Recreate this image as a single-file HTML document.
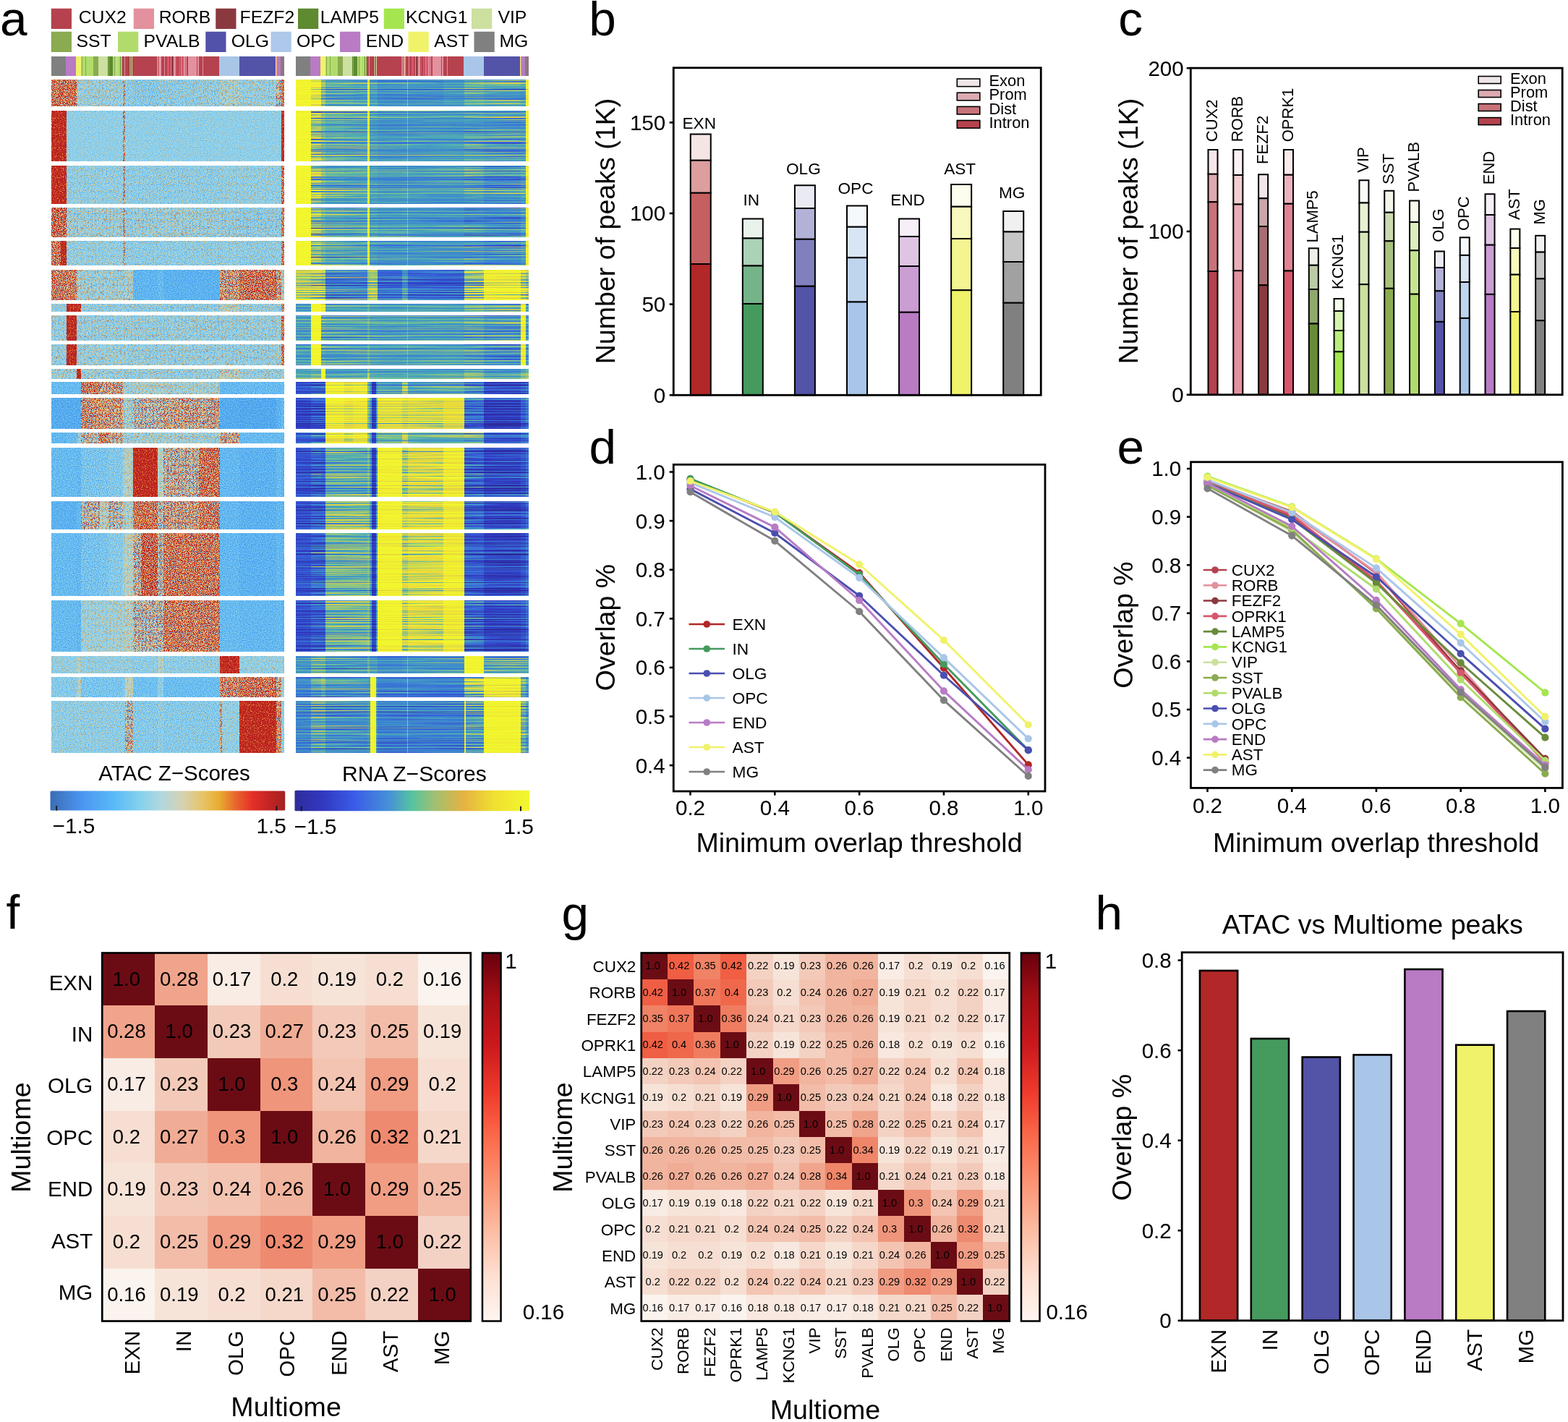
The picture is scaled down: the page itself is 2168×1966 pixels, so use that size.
<!DOCTYPE html>
<html lang="en"><head><meta charset="utf-8"><title>Figure</title>
<style>
html,body{margin:0;padding:0;background:#fff;}
body{width:2168px;height:1966px;overflow:hidden;}
svg{display:block;font-family:"Liberation Sans",sans-serif;fill:#000;}
</style></head><body>
<svg width="2168" height="1966" viewBox="0 0 2168 1966">
<rect width="2168" height="1966" fill="#ffffff"/>
<rect x="70.75" y="11.75" width="28.25" height="28.25" fill="#b5424e"/>
<text x="141.75" y="32" font-size="24.8" text-anchor="middle">CUX2</text>
<rect x="184.75" y="11.75" width="28.25" height="28.25" fill="#e3919e"/>
<text x="255.5" y="32" font-size="24.8" text-anchor="middle">RORB</text>
<rect x="298.25" y="11.75" width="28.25" height="28.25" fill="#8a3a3f"/>
<text x="369.4" y="32" font-size="24.8" text-anchor="middle">FEZF2</text>
<rect x="412" y="11.75" width="28.25" height="28.25" fill="#5e8a30"/>
<text x="483.5" y="32" font-size="24.8" text-anchor="middle">LAMP5</text>
<rect x="530.75" y="11.75" width="28.25" height="28.25" fill="#a5e64f"/>
<text x="603.75" y="32" font-size="24.8" text-anchor="middle">KCNG1</text>
<rect x="652" y="11.75" width="28.25" height="28.25" fill="#cce0a0"/>
<text x="708.4" y="32" font-size="24.8" text-anchor="middle">VIP</text>
<rect x="70.75" y="43.75" width="28.25" height="28.25" fill="#8aab4f"/>
<text x="129.5" y="64.5" font-size="24.8" text-anchor="middle">SST</text>
<rect x="163" y="43.75" width="28.25" height="28.25" fill="#b1dc6c"/>
<text x="237.6" y="64.5" font-size="24.8" text-anchor="middle">PVALB</text>
<rect x="284.25" y="43.75" width="28.25" height="28.25" fill="#5252aa"/>
<text x="345.9" y="64.5" font-size="24.8" text-anchor="middle">OLG</text>
<rect x="374.5" y="43.75" width="28.25" height="28.25" fill="#adc8ea"/>
<text x="436.9" y="64.5" font-size="24.8" text-anchor="middle">OPC</text>
<rect x="470" y="43.75" width="28.25" height="28.25" fill="#b87bc4"/>
<text x="532" y="64.5" font-size="24.8" text-anchor="middle">END</text>
<rect x="564.5" y="43.75" width="28.25" height="28.25" fill="#f0f26a"/>
<text x="624.25" y="64.5" font-size="24.8" text-anchor="middle">AST</text>
<rect x="655.5" y="43.75" width="28.25" height="28.25" fill="#808080"/>
<text x="710.4" y="64.5" font-size="24.8" text-anchor="middle">MG</text>
<g shape-rendering="crispEdges">
<rect x="70.75" y="78.2" width="20.3" height="26.4" fill="#808080"/>
<rect x="90.75" y="78.2" width="14.5" height="26.4" fill="#b87bc4"/>
<rect x="104.95" y="78.2" width="6.9" height="26.4" fill="#f0f26a"/>
<rect x="111.55" y="78.2" width="1.7" height="26.4" fill="#b1dc6c"/>
<rect x="112.95" y="78.2" width="1.1" height="26.4" fill="#8aab4f"/>
<rect x="113.75" y="78.2" width="2.3" height="26.4" fill="#b1dc6c"/>
<rect x="115.75" y="78.2" width="0.9" height="26.4" fill="#8aab4f"/>
<rect x="116.35" y="78.2" width="2.1" height="26.4" fill="#b1dc6c"/>
<rect x="118.15" y="78.2" width="1.5" height="26.4" fill="#8aab4f"/>
<rect x="119.35" y="78.2" width="9.5" height="26.4" fill="#b1dc6c"/>
<rect x="128.55" y="78.2" width="7.3" height="26.4" fill="#8aab4f"/>
<rect x="135.55" y="78.2" width="13.6" height="26.4" fill="#cce0a0"/>
<rect x="148.85" y="78.2" width="1.2" height="26.4" fill="#5b8a2e"/>
<rect x="149.75" y="78.2" width="0.9" height="26.4" fill="#b1dc6c"/>
<rect x="150.35" y="78.2" width="1.4" height="26.4" fill="#8aab4f"/>
<rect x="151.45" y="78.2" width="5.2" height="26.4" fill="#5b8a2e"/>
<rect x="156.35" y="78.2" width="2.2" height="26.4" fill="#b1dc6c"/>
<rect x="158.25" y="78.2" width="1" height="26.4" fill="#8aab4f"/>
<rect x="158.95" y="78.2" width="2.7" height="26.4" fill="#b1dc6c"/>
<rect x="161.35" y="78.2" width="1" height="26.4" fill="#cce0a0"/>
<rect x="162.05" y="78.2" width="2.75" height="26.4" fill="#b1dc6c"/>
<rect x="164.5" y="78.2" width="1.15" height="26.4" fill="#5b8a2e"/>
<rect x="165.35" y="78.2" width="1.3" height="26.4" fill="#b1dc6c"/>
<rect x="166.35" y="78.2" width="1.1" height="26.4" fill="#5b8a2e"/>
<rect x="167.15" y="78.2" width="1.3" height="26.4" fill="#cce0a0"/>
<rect x="168.15" y="78.2" width="1.3" height="26.4" fill="#8aab4f"/>
<rect x="169.15" y="78.2" width="2.9" height="26.4" fill="#b5424e"/>
<rect x="171.75" y="78.2" width="1.1" height="26.4" fill="#e3919e"/>
<rect x="172.55" y="78.2" width="3.3" height="26.4" fill="#b5424e"/>
<rect x="175.55" y="78.2" width="1.1" height="26.4" fill="#e3919e"/>
<rect x="176.35" y="78.2" width="2.3" height="26.4" fill="#b5424e"/>
<rect x="178.35" y="78.2" width="1.1" height="26.4" fill="#8a3a3f"/>
<rect x="179.15" y="78.2" width="1.3" height="26.4" fill="#e3919e"/>
<rect x="180.15" y="78.2" width="1.1" height="26.4" fill="#8aab4f"/>
<rect x="180.95" y="78.2" width="1.3" height="26.4" fill="#b5424e"/>
<rect x="181.95" y="78.2" width="1.4" height="26.4" fill="#cce0a0"/>
<rect x="183.05" y="78.2" width="33.8" height="26.4" fill="#b5424e"/>
<rect x="216.55" y="78.2" width="1.3" height="26.4" fill="#8aab4f"/>
<rect x="217.55" y="78.2" width="1.5" height="26.4" fill="#e3919e"/>
<rect x="218.75" y="78.2" width="1.7" height="26.4" fill="#b5424e"/>
<rect x="220.15" y="78.2" width="1.5" height="26.4" fill="#d8c878"/>
<rect x="221.35" y="78.2" width="1.6" height="26.4" fill="#e3919e"/>
<rect x="222.65" y="78.2" width="4.4" height="26.4" fill="#b5424e"/>
<rect x="226.75" y="78.2" width="1.3" height="26.4" fill="#e3919e"/>
<rect x="227.75" y="78.2" width="3.9" height="26.4" fill="#b5424e"/>
<rect x="231.35" y="78.2" width="2.5" height="26.4" fill="#d8566c"/>
<rect x="233.55" y="78.2" width="2.5" height="26.4" fill="#b5424e"/>
<rect x="235.75" y="78.2" width="1.5" height="26.4" fill="#e3919e"/>
<rect x="236.95" y="78.2" width="2.5" height="26.4" fill="#8a3a3f"/>
<rect x="239.15" y="78.2" width="1.5" height="26.4" fill="#b5424e"/>
<rect x="240.35" y="78.2" width="2.5" height="26.4" fill="#e3919e"/>
<rect x="242.55" y="78.2" width="1.5" height="26.4" fill="#b5424e"/>
<rect x="243.75" y="78.2" width="1.2" height="26.4" fill="#d8566c"/>
<rect x="244.65" y="78.2" width="2.5" height="26.4" fill="#b5424e"/>
<rect x="246.85" y="78.2" width="1.5" height="26.4" fill="#d8566c"/>
<rect x="248.05" y="78.2" width="1.2" height="26.4" fill="#d8566c"/>
<rect x="248.95" y="78.2" width="1.2" height="26.4" fill="#b5424e"/>
<rect x="249.85" y="78.2" width="1.2" height="26.4" fill="#e3919e"/>
<rect x="250.75" y="78.2" width="1.5" height="26.4" fill="#d8566c"/>
<rect x="251.95" y="78.2" width="1.2" height="26.4" fill="#d8566c"/>
<rect x="252.85" y="78.2" width="1.9" height="26.4" fill="#d8566c"/>
<rect x="254.45" y="78.2" width="1.5" height="26.4" fill="#e3919e"/>
<rect x="255.65" y="78.2" width="1.9" height="26.4" fill="#d8566c"/>
<rect x="257.25" y="78.2" width="1.2" height="26.4" fill="#e3919e"/>
<rect x="258.15" y="78.2" width="2.5" height="26.4" fill="#b5424e"/>
<rect x="260.35" y="78.2" width="1.7" height="26.4" fill="#e3919e"/>
<rect x="261.75" y="78.2" width="10.3" height="26.4" fill="#e3919e"/>
<rect x="271.75" y="78.2" width="1.6" height="26.4" fill="#b5424e"/>
<rect x="273.05" y="78.2" width="2" height="26.4" fill="#e3919e"/>
<rect x="274.75" y="78.2" width="5.3" height="26.4" fill="#b5424e"/>
<rect x="279.75" y="78.2" width="1.1" height="26.4" fill="#e3919e"/>
<rect x="280.55" y="78.2" width="1.5" height="26.4" fill="#b5424e"/>
<rect x="281.75" y="78.2" width="21.9" height="26.4" fill="#b5424e"/>
<rect x="303.35" y="78.2" width="27.7" height="26.4" fill="#a9c6e8"/>
<rect x="330.75" y="78.2" width="50.3" height="26.4" fill="#5353a8"/>
<rect x="380.75" y="78.2" width="1.3" height="26.4" fill="#f0f26a"/>
<rect x="381.75" y="78.2" width="1.8" height="26.4" fill="#e3919e"/>
<rect x="383.25" y="78.2" width="5.5" height="26.4" fill="#b87bc4"/>
<rect x="388.45" y="78.2" width="4.85" height="26.4" fill="#8a7880"/>
<rect x="408.75" y="78.2" width="20.3" height="26.4" fill="#808080"/>
<rect x="428.75" y="78.2" width="14.5" height="26.4" fill="#b87bc4"/>
<rect x="442.95" y="78.2" width="6.9" height="26.4" fill="#f0f26a"/>
<rect x="449.55" y="78.2" width="1.7" height="26.4" fill="#b1dc6c"/>
<rect x="450.95" y="78.2" width="1.1" height="26.4" fill="#8aab4f"/>
<rect x="451.75" y="78.2" width="2.3" height="26.4" fill="#b1dc6c"/>
<rect x="453.75" y="78.2" width="0.9" height="26.4" fill="#8aab4f"/>
<rect x="454.35" y="78.2" width="2.1" height="26.4" fill="#b1dc6c"/>
<rect x="456.15" y="78.2" width="1.5" height="26.4" fill="#8aab4f"/>
<rect x="457.35" y="78.2" width="9.5" height="26.4" fill="#b1dc6c"/>
<rect x="466.55" y="78.2" width="7.3" height="26.4" fill="#8aab4f"/>
<rect x="473.55" y="78.2" width="13.6" height="26.4" fill="#cce0a0"/>
<rect x="486.85" y="78.2" width="1.2" height="26.4" fill="#5b8a2e"/>
<rect x="487.75" y="78.2" width="0.9" height="26.4" fill="#b1dc6c"/>
<rect x="488.35" y="78.2" width="1.4" height="26.4" fill="#8aab4f"/>
<rect x="489.45" y="78.2" width="5.2" height="26.4" fill="#5b8a2e"/>
<rect x="494.35" y="78.2" width="2.2" height="26.4" fill="#b1dc6c"/>
<rect x="496.25" y="78.2" width="1" height="26.4" fill="#8aab4f"/>
<rect x="496.95" y="78.2" width="2.7" height="26.4" fill="#b1dc6c"/>
<rect x="499.35" y="78.2" width="1" height="26.4" fill="#cce0a0"/>
<rect x="500.05" y="78.2" width="2.75" height="26.4" fill="#b1dc6c"/>
<rect x="502.5" y="78.2" width="1.15" height="26.4" fill="#5b8a2e"/>
<rect x="503.35" y="78.2" width="1.3" height="26.4" fill="#b1dc6c"/>
<rect x="504.35" y="78.2" width="1.1" height="26.4" fill="#5b8a2e"/>
<rect x="505.15" y="78.2" width="1.3" height="26.4" fill="#cce0a0"/>
<rect x="506.15" y="78.2" width="1.3" height="26.4" fill="#8aab4f"/>
<rect x="507.15" y="78.2" width="2.9" height="26.4" fill="#b5424e"/>
<rect x="509.75" y="78.2" width="1.1" height="26.4" fill="#e3919e"/>
<rect x="510.55" y="78.2" width="3.3" height="26.4" fill="#b5424e"/>
<rect x="513.55" y="78.2" width="1.1" height="26.4" fill="#e3919e"/>
<rect x="514.35" y="78.2" width="2.3" height="26.4" fill="#b5424e"/>
<rect x="516.35" y="78.2" width="1.1" height="26.4" fill="#8a3a3f"/>
<rect x="517.15" y="78.2" width="1.3" height="26.4" fill="#e3919e"/>
<rect x="518.15" y="78.2" width="1.1" height="26.4" fill="#8aab4f"/>
<rect x="518.95" y="78.2" width="1.3" height="26.4" fill="#b5424e"/>
<rect x="519.95" y="78.2" width="1.4" height="26.4" fill="#cce0a0"/>
<rect x="521.05" y="78.2" width="33.8" height="26.4" fill="#b5424e"/>
<rect x="554.55" y="78.2" width="1.3" height="26.4" fill="#8aab4f"/>
<rect x="555.55" y="78.2" width="1.5" height="26.4" fill="#e3919e"/>
<rect x="556.75" y="78.2" width="1.7" height="26.4" fill="#b5424e"/>
<rect x="558.15" y="78.2" width="1.5" height="26.4" fill="#d8c878"/>
<rect x="559.35" y="78.2" width="1.6" height="26.4" fill="#e3919e"/>
<rect x="560.65" y="78.2" width="4.4" height="26.4" fill="#b5424e"/>
<rect x="564.75" y="78.2" width="1.3" height="26.4" fill="#e3919e"/>
<rect x="565.75" y="78.2" width="3.9" height="26.4" fill="#b5424e"/>
<rect x="569.35" y="78.2" width="2.5" height="26.4" fill="#d8566c"/>
<rect x="571.55" y="78.2" width="2.5" height="26.4" fill="#b5424e"/>
<rect x="573.75" y="78.2" width="1.5" height="26.4" fill="#e3919e"/>
<rect x="574.95" y="78.2" width="2.5" height="26.4" fill="#8a3a3f"/>
<rect x="577.15" y="78.2" width="1.5" height="26.4" fill="#b5424e"/>
<rect x="578.35" y="78.2" width="2.5" height="26.4" fill="#e3919e"/>
<rect x="580.55" y="78.2" width="1.5" height="26.4" fill="#b5424e"/>
<rect x="581.75" y="78.2" width="1.2" height="26.4" fill="#d8566c"/>
<rect x="582.65" y="78.2" width="2.5" height="26.4" fill="#b5424e"/>
<rect x="584.85" y="78.2" width="1.5" height="26.4" fill="#d8566c"/>
<rect x="586.05" y="78.2" width="1.2" height="26.4" fill="#d8566c"/>
<rect x="586.95" y="78.2" width="1.2" height="26.4" fill="#b5424e"/>
<rect x="587.85" y="78.2" width="1.2" height="26.4" fill="#e3919e"/>
<rect x="588.75" y="78.2" width="1.5" height="26.4" fill="#d8566c"/>
<rect x="589.95" y="78.2" width="1.2" height="26.4" fill="#d8566c"/>
<rect x="590.85" y="78.2" width="1.9" height="26.4" fill="#d8566c"/>
<rect x="592.45" y="78.2" width="1.5" height="26.4" fill="#e3919e"/>
<rect x="593.65" y="78.2" width="1.9" height="26.4" fill="#d8566c"/>
<rect x="595.25" y="78.2" width="1.2" height="26.4" fill="#e3919e"/>
<rect x="596.15" y="78.2" width="2.5" height="26.4" fill="#b5424e"/>
<rect x="598.35" y="78.2" width="1.7" height="26.4" fill="#e3919e"/>
<rect x="599.75" y="78.2" width="10.3" height="26.4" fill="#e3919e"/>
<rect x="609.75" y="78.2" width="1.6" height="26.4" fill="#b5424e"/>
<rect x="611.05" y="78.2" width="2" height="26.4" fill="#e3919e"/>
<rect x="612.75" y="78.2" width="5.3" height="26.4" fill="#b5424e"/>
<rect x="617.75" y="78.2" width="1.1" height="26.4" fill="#e3919e"/>
<rect x="618.55" y="78.2" width="1.5" height="26.4" fill="#b5424e"/>
<rect x="619.75" y="78.2" width="21.9" height="26.4" fill="#b5424e"/>
<rect x="641.35" y="78.2" width="27.7" height="26.4" fill="#a9c6e8"/>
<rect x="668.75" y="78.2" width="50.3" height="26.4" fill="#5353a8"/>
<rect x="718.75" y="78.2" width="1.3" height="26.4" fill="#f0f26a"/>
<rect x="719.75" y="78.2" width="1.8" height="26.4" fill="#e3919e"/>
<rect x="721.25" y="78.2" width="5.5" height="26.4" fill="#b87bc4"/>
<rect x="726.45" y="78.2" width="4.85" height="26.4" fill="#8a7880"/>
</g>
<filter id="fa" filterUnits="userSpaceOnUse" x="60" y="100" width="345" height="950" color-interpolation-filters="sRGB"><feColorMatrix in="SourceGraphic" type="matrix" values="1 0 0 0 0 1 0 0 0 0 1 0 0 0 0 0 0 0 1 0" result="L"/><feColorMatrix in="SourceGraphic" type="matrix" values="0 1 0 0 0 0 1 0 0 0 0 1 0 0 0 0 0 0 1 0" result="M"/><feTurbulence type="fractalNoise" baseFrequency="0.8 0.9" numOctaves="1" seed="4" result="n"/><feColorMatrix in="n" type="matrix" values="1 0 0 0 0 1 0 0 0 0 1 0 0 0 0 0 0 0 0 1" result="ng"/><feComposite in="M" in2="ng" operator="arithmetic" k1="1" k2="0" k3="0" k4="0" result="N"/><feComposite in="L" in2="N" operator="arithmetic" k1="0" k2="1" k3="0.75" k4="0" result="s1"/><feComposite in="s1" in2="M" operator="arithmetic" k1="0" k2="1" k3="-0.38" k4="0.38" result="s2"/><feComponentTransfer in="s2" result="c"><feFuncR type="table" tableValues="0.247 0.247 0.247 0.247 0.247 0.247 0.247 0.247 0.247 0.247 0.247 0.248 0.249 0.25 0.251 0.252 0.253 0.254 0.255 0.256 0.257 0.258 0.259 0.26 0.261 0.262 0.263 0.264 0.265 0.266 0.267 0.278 0.29 0.302 0.314 0.376 0.439 0.485 0.531 0.573 0.612 0.754 0.853 0.889 0.91 0.91 0.894 0.855 0.816 0.776 0.737 0.725 0.714 0.702 0.69 0.689 0.688 0.687 0.685 0.684 0.683 0.682 0.681 0.679 0.678 0.677 0.676 0.675 0.673 0.672 0.671 0.67 0.668 0.667 0.666 0.665 0.664 0.662 0.661 0.66 0.659"/><feFuncG type="table" tableValues="0.471 0.471 0.471 0.471 0.471 0.471 0.471 0.471 0.471 0.471 0.471 0.474 0.477 0.48 0.483 0.486 0.489 0.493 0.496 0.499 0.502 0.505 0.508 0.511 0.515 0.518 0.521 0.524 0.527 0.53 0.533 0.569 0.604 0.639 0.675 0.718 0.761 0.785 0.81 0.825 0.835 0.833 0.813 0.765 0.693 0.584 0.461 0.32 0.22 0.18 0.141 0.137 0.133 0.129 0.125 0.125 0.125 0.125 0.125 0.125 0.125 0.125 0.125 0.125 0.125 0.125 0.125 0.125 0.125 0.125 0.125 0.125 0.125 0.125 0.125 0.125 0.125 0.125 0.125 0.125 0.125"/><feFuncB type="table" tableValues="0.784 0.784 0.784 0.784 0.784 0.784 0.784 0.784 0.784 0.784 0.784 0.788 0.792 0.796 0.8 0.804 0.808 0.812 0.816 0.82 0.824 0.827 0.831 0.835 0.839 0.843 0.847 0.851 0.855 0.859 0.863 0.894 0.925 0.937 0.949 0.945 0.941 0.935 0.928 0.92 0.91 0.782 0.634 0.453 0.322 0.263 0.213 0.178 0.152 0.139 0.125 0.125 0.125 0.125 0.125 0.125 0.125 0.125 0.125 0.125 0.125 0.125 0.125 0.125 0.125 0.125 0.125 0.125 0.125 0.125 0.125 0.125 0.125 0.125 0.125 0.125 0.125 0.125 0.125 0.125 0.125"/></feComponentTransfer><feGaussianBlur in="c" stdDeviation="0.75 0.6" result="bl"/><feComposite in="bl" in2="SourceGraphic" operator="in"/></filter>
<filter id="fr" filterUnits="userSpaceOnUse" x="400" y="100" width="345" height="950" color-interpolation-filters="sRGB"><feColorMatrix in="SourceGraphic" type="matrix" values="1 0 0 0 0 1 0 0 0 0 1 0 0 0 0 0 0 0 1 0" result="L"/><feColorMatrix in="SourceGraphic" type="matrix" values="0 1 0 0 0 0 1 0 0 0 0 1 0 0 0 0 0 0 1 0" result="M"/><feTurbulence type="fractalNoise" baseFrequency="0.0004 0.9" numOctaves="1" seed="9" result="n"/><feColorMatrix in="n" type="matrix" values="1 0 0 0 0 1 0 0 0 0 1 0 0 0 0 0 0 0 0 1" result="na"/><feTurbulence type="fractalNoise" baseFrequency="0.012 0.9" numOctaves="1" seed="21" result="m"/><feColorMatrix in="m" type="matrix" values="1 0 0 0 0 1 0 0 0 0 1 0 0 0 0 0 0 0 0 1" result="nb"/><feComposite in="na" in2="nb" operator="arithmetic" k1="0" k2="0.8" k3="0.4" k4="-0.1" result="ng"/><feComposite in="M" in2="ng" operator="arithmetic" k1="1" k2="0" k3="0" k4="0" result="N"/><feComposite in="L" in2="N" operator="arithmetic" k1="0" k2="1" k3="0.75" k4="0" result="s1"/><feComposite in="s1" in2="M" operator="arithmetic" k1="0" k2="1" k3="-0.38" k4="0.38" result="s2"/><feComponentTransfer in="s2" result="c"><feFuncR type="table" tableValues="0.165 0.165 0.165 0.165 0.165 0.165 0.165 0.165 0.165 0.165 0.165 0.165 0.165 0.166 0.166 0.167 0.167 0.167 0.168 0.168 0.169 0.169 0.169 0.17 0.17 0.171 0.171 0.171 0.172 0.172 0.173 0.179 0.186 0.195 0.206 0.217 0.227 0.237 0.253 0.276 0.325 0.439 0.596 0.71 0.824 0.875 0.925 0.933 0.941 0.945 0.949 0.949 0.949 0.949 0.949 0.949 0.949 0.949 0.949 0.949 0.949 0.949 0.949 0.949 0.949 0.949 0.949 0.949 0.949 0.949 0.949 0.949 0.949 0.949 0.949 0.949 0.949 0.949 0.949 0.949 0.949"/><feFuncG type="table" tableValues="0.165 0.165 0.165 0.165 0.165 0.165 0.165 0.165 0.165 0.165 0.165 0.165 0.165 0.166 0.166 0.167 0.167 0.167 0.168 0.168 0.169 0.169 0.169 0.17 0.17 0.171 0.171 0.171 0.172 0.172 0.173 0.192 0.212 0.26 0.327 0.394 0.458 0.521 0.567 0.615 0.691 0.745 0.784 0.8 0.816 0.831 0.847 0.886 0.925 0.945 0.965 0.965 0.965 0.965 0.965 0.965 0.965 0.965 0.965 0.965 0.965 0.965 0.965 0.965 0.965 0.965 0.965 0.965 0.965 0.965 0.965 0.965 0.965 0.965 0.965 0.965 0.965 0.965 0.965 0.965 0.965"/><feFuncB type="table" tableValues="0.596 0.596 0.596 0.596 0.596 0.596 0.596 0.596 0.596 0.596 0.596 0.597 0.598 0.6 0.601 0.602 0.603 0.604 0.605 0.607 0.608 0.609 0.61 0.611 0.613 0.614 0.615 0.616 0.617 0.618 0.62 0.675 0.731 0.776 0.816 0.855 0.844 0.82 0.792 0.756 0.692 0.596 0.478 0.396 0.314 0.271 0.227 0.212 0.196 0.188 0.18 0.18 0.18 0.18 0.18 0.18 0.18 0.18 0.18 0.18 0.18 0.18 0.18 0.18 0.18 0.18 0.18 0.18 0.18 0.18 0.18 0.18 0.18 0.18 0.18 0.18 0.18 0.18 0.18 0.18 0.18"/></feComponentTransfer><feGaussianBlur in="c" stdDeviation="0.5 0.3" result="bl"/><feComposite in="bl" in2="SourceGraphic" operator="in"/></filter>
<g filter="url(#fa)" shape-rendering="crispEdges">
<rect x="67.75" y="107" width="24.05" height="43.05" fill="#34d900"/>
<rect x="91.5" y="107" width="14.3" height="43.05" fill="#34d900"/>
<rect x="105.5" y="107" width="6.8" height="43.05" fill="#1d7300"/>
<rect x="112" y="107" width="25.8" height="43.05" fill="#1c7300"/>
<rect x="137.5" y="107" width="12.8" height="43.05" fill="#1c7300"/>
<rect x="150" y="107" width="20.3" height="43.05" fill="#1c7300"/>
<rect x="170" y="107" width="3.05" height="43.05" fill="#24d900"/>
<rect x="172.75" y="107" width="11.3" height="43.05" fill="#1a7300"/>
<rect x="183.75" y="107" width="34.05" height="43.05" fill="#187300"/>
<rect x="217.5" y="107" width="8.8" height="43.05" fill="#1a7300"/>
<rect x="226" y="107" width="49.3" height="43.05" fill="#1a7300"/>
<rect x="275" y="107" width="29.3" height="43.05" fill="#1b7300"/>
<rect x="304" y="107" width="27.55" height="43.05" fill="#1f7300"/>
<rect x="331.25" y="107" width="50.8" height="43.05" fill="#1c7300"/>
<rect x="381.75" y="107" width="7.3" height="43.05" fill="#24d900"/>
<rect x="388.75" y="107" width="7.55" height="43.05" fill="#34d900"/>
<rect x="67.75" y="149.75" width="24.05" height="76.3" fill="#406b00"/>
<rect x="91.5" y="149.75" width="14.3" height="76.3" fill="#1a4500"/>
<rect x="105.5" y="149.75" width="6.8" height="76.3" fill="#1a4500"/>
<rect x="112" y="149.75" width="25.8" height="76.3" fill="#1a4500"/>
<rect x="137.5" y="149.75" width="12.8" height="76.3" fill="#1a4500"/>
<rect x="150" y="149.75" width="20.3" height="76.3" fill="#1a4500"/>
<rect x="170" y="149.75" width="3.05" height="76.3" fill="#2bd900"/>
<rect x="172.75" y="149.75" width="11.3" height="76.3" fill="#1a4500"/>
<rect x="183.75" y="149.75" width="34.05" height="76.3" fill="#1a4500"/>
<rect x="217.5" y="149.75" width="8.8" height="76.3" fill="#1a4500"/>
<rect x="226" y="149.75" width="49.3" height="76.3" fill="#1a4500"/>
<rect x="275" y="149.75" width="29.3" height="76.3" fill="#1a4500"/>
<rect x="304" y="149.75" width="27.55" height="76.3" fill="#1a4500"/>
<rect x="331.25" y="149.75" width="50.8" height="76.3" fill="#1a4500"/>
<rect x="381.75" y="149.75" width="7.3" height="76.3" fill="#1a4500"/>
<rect x="388.75" y="149.75" width="7.55" height="76.3" fill="#406b00"/>
<rect x="67.75" y="225.75" width="24.05" height="58.92" fill="#406b00"/>
<rect x="91.5" y="225.75" width="14.3" height="58.92" fill="#1b6600"/>
<rect x="105.5" y="225.75" width="6.8" height="58.92" fill="#1b6600"/>
<rect x="112" y="225.75" width="25.8" height="58.92" fill="#1b6600"/>
<rect x="137.5" y="225.75" width="12.8" height="58.92" fill="#1b6600"/>
<rect x="150" y="225.75" width="20.3" height="58.92" fill="#1b6600"/>
<rect x="170" y="225.75" width="3.05" height="58.92" fill="#29d900"/>
<rect x="172.75" y="225.75" width="11.3" height="58.92" fill="#1a6600"/>
<rect x="183.75" y="225.75" width="34.05" height="58.92" fill="#1a6600"/>
<rect x="217.5" y="225.75" width="8.8" height="58.92" fill="#1a6600"/>
<rect x="226" y="225.75" width="49.3" height="58.92" fill="#1a6600"/>
<rect x="275" y="225.75" width="29.3" height="58.92" fill="#1a6600"/>
<rect x="304" y="225.75" width="27.55" height="58.92" fill="#1b6600"/>
<rect x="331.25" y="225.75" width="50.8" height="58.92" fill="#1b6600"/>
<rect x="381.75" y="225.75" width="7.3" height="58.92" fill="#1b6600"/>
<rect x="388.75" y="225.75" width="7.55" height="58.92" fill="#34d900"/>
<rect x="67.75" y="284.38" width="24.05" height="46.17" fill="#36d900"/>
<rect x="91.5" y="284.38" width="14.3" height="46.17" fill="#1d8000"/>
<rect x="105.5" y="284.38" width="6.8" height="46.17" fill="#1d8000"/>
<rect x="112" y="284.38" width="25.8" height="46.17" fill="#1d8000"/>
<rect x="137.5" y="284.38" width="12.8" height="46.17" fill="#1d8000"/>
<rect x="150" y="284.38" width="20.3" height="46.17" fill="#1d8000"/>
<rect x="170" y="284.38" width="3.05" height="46.17" fill="#26d900"/>
<rect x="172.75" y="284.38" width="11.3" height="46.17" fill="#1b8000"/>
<rect x="183.75" y="284.38" width="34.05" height="46.17" fill="#1c8000"/>
<rect x="217.5" y="284.38" width="8.8" height="46.17" fill="#1c8000"/>
<rect x="226" y="284.38" width="49.3" height="46.17" fill="#1d8000"/>
<rect x="275" y="284.38" width="29.3" height="46.17" fill="#1c8000"/>
<rect x="304" y="284.38" width="27.55" height="46.17" fill="#1b8000"/>
<rect x="331.25" y="284.38" width="50.8" height="46.17" fill="#1a8000"/>
<rect x="381.75" y="284.38" width="7.3" height="46.17" fill="#1b8000"/>
<rect x="388.75" y="284.38" width="7.55" height="46.17" fill="#31d900"/>
<rect x="67.75" y="330.25" width="24.05" height="39.8" fill="#31d900"/>
<rect x="91.5" y="330.25" width="14.3" height="39.8" fill="#1b6600"/>
<rect x="105.5" y="330.25" width="6.8" height="39.8" fill="#1b6600"/>
<rect x="112" y="330.25" width="25.8" height="39.8" fill="#1b6600"/>
<rect x="137.5" y="330.25" width="12.8" height="39.8" fill="#1b6600"/>
<rect x="150" y="330.25" width="20.3" height="39.8" fill="#1b6600"/>
<rect x="170" y="330.25" width="3.05" height="39.8" fill="#26d900"/>
<rect x="172.75" y="330.25" width="11.3" height="39.8" fill="#1a6600"/>
<rect x="183.75" y="330.25" width="34.05" height="39.8" fill="#1a6600"/>
<rect x="217.5" y="330.25" width="8.8" height="39.8" fill="#1a6600"/>
<rect x="226" y="330.25" width="49.3" height="39.8" fill="#1a6600"/>
<rect x="275" y="330.25" width="29.3" height="39.8" fill="#1a6600"/>
<rect x="304" y="330.25" width="27.55" height="39.8" fill="#1b6600"/>
<rect x="331.25" y="330.25" width="50.8" height="39.8" fill="#1a6600"/>
<rect x="381.75" y="330.25" width="7.3" height="39.8" fill="#1b6600"/>
<rect x="388.75" y="330.25" width="7.55" height="39.8" fill="#31d900"/>
<rect x="70.75" y="330.25" width="13" height="39.8" fill="#34d900"/>
<rect x="83.75" y="330.25" width="7.75" height="39.8" fill="#406b00"/>
<rect x="67.75" y="369.75" width="24.05" height="48.05" fill="#32d900"/>
<rect x="91.5" y="369.75" width="14.3" height="48.05" fill="#31d900"/>
<rect x="105.5" y="369.75" width="6.8" height="48.05" fill="#208000"/>
<rect x="112" y="369.75" width="25.8" height="48.05" fill="#1d8000"/>
<rect x="137.5" y="369.75" width="12.8" height="48.05" fill="#1d8000"/>
<rect x="150" y="369.75" width="20.3" height="48.05" fill="#1d8000"/>
<rect x="170" y="369.75" width="3.05" height="48.05" fill="#1d8000"/>
<rect x="172.75" y="369.75" width="11.3" height="48.05" fill="#208000"/>
<rect x="183.75" y="369.75" width="34.05" height="48.05" fill="#0e4000"/>
<rect x="217.5" y="369.75" width="8.8" height="48.05" fill="#104000"/>
<rect x="226" y="369.75" width="49.3" height="48.05" fill="#0d4000"/>
<rect x="275" y="369.75" width="29.3" height="48.05" fill="#0d4000"/>
<rect x="304" y="369.75" width="27.55" height="48.05" fill="#2cd900"/>
<rect x="331.25" y="369.75" width="50.8" height="48.05" fill="#34d900"/>
<rect x="381.75" y="369.75" width="7.3" height="48.05" fill="#2bd900"/>
<rect x="388.75" y="369.75" width="7.55" height="48.05" fill="#218000"/>
<rect x="67.75" y="417.5" width="24.05" height="16.43" fill="#1b7300"/>
<rect x="91.5" y="417.5" width="14.3" height="16.43" fill="#406b00"/>
<rect x="105.5" y="417.5" width="6.8" height="16.43" fill="#406b00"/>
<rect x="112" y="417.5" width="25.8" height="16.43" fill="#1b7300"/>
<rect x="137.5" y="417.5" width="12.8" height="16.43" fill="#1b7300"/>
<rect x="150" y="417.5" width="20.3" height="16.43" fill="#1b7300"/>
<rect x="170" y="417.5" width="3.05" height="16.43" fill="#1b7300"/>
<rect x="172.75" y="417.5" width="11.3" height="16.43" fill="#1b7300"/>
<rect x="183.75" y="417.5" width="34.05" height="16.43" fill="#1a7300"/>
<rect x="217.5" y="417.5" width="8.8" height="16.43" fill="#1a7300"/>
<rect x="226" y="417.5" width="49.3" height="16.43" fill="#1a7300"/>
<rect x="275" y="417.5" width="29.3" height="16.43" fill="#1a7300"/>
<rect x="304" y="417.5" width="27.55" height="16.43" fill="#217300"/>
<rect x="331.25" y="417.5" width="50.8" height="16.43" fill="#1b7300"/>
<rect x="381.75" y="417.5" width="7.3" height="16.43" fill="#1b7300"/>
<rect x="388.75" y="417.5" width="7.55" height="16.43" fill="#31d900"/>
<rect x="67.75" y="433.62" width="24.05" height="39.92" fill="#1b7a00"/>
<rect x="91.5" y="433.62" width="14.3" height="39.92" fill="#406b00"/>
<rect x="105.5" y="433.62" width="6.8" height="39.92" fill="#1b7a00"/>
<rect x="112" y="433.62" width="25.8" height="39.92" fill="#1b7a00"/>
<rect x="137.5" y="433.62" width="12.8" height="39.92" fill="#1b7a00"/>
<rect x="150" y="433.62" width="20.3" height="39.92" fill="#1b7a00"/>
<rect x="170" y="433.62" width="3.05" height="39.92" fill="#1d7a00"/>
<rect x="172.75" y="433.62" width="11.3" height="39.92" fill="#1b7a00"/>
<rect x="183.75" y="433.62" width="34.05" height="39.92" fill="#1b7a00"/>
<rect x="217.5" y="433.62" width="8.8" height="39.92" fill="#1b7a00"/>
<rect x="226" y="433.62" width="49.3" height="39.92" fill="#1b7a00"/>
<rect x="275" y="433.62" width="29.3" height="39.92" fill="#1b7a00"/>
<rect x="304" y="433.62" width="27.55" height="39.92" fill="#1b7a00"/>
<rect x="331.25" y="433.62" width="50.8" height="39.92" fill="#1b7a00"/>
<rect x="381.75" y="433.62" width="7.3" height="39.92" fill="#1d7a00"/>
<rect x="388.75" y="433.62" width="7.55" height="39.92" fill="#34d900"/>
<rect x="67.75" y="473.25" width="24.05" height="34.67" fill="#1b7a00"/>
<rect x="91.5" y="473.25" width="14.3" height="34.67" fill="#406b00"/>
<rect x="105.5" y="473.25" width="6.8" height="34.67" fill="#1b7a00"/>
<rect x="112" y="473.25" width="25.8" height="34.67" fill="#1c7a00"/>
<rect x="137.5" y="473.25" width="12.8" height="34.67" fill="#1c7a00"/>
<rect x="150" y="473.25" width="20.3" height="34.67" fill="#1c7a00"/>
<rect x="170" y="473.25" width="3.05" height="34.67" fill="#1d7a00"/>
<rect x="172.75" y="473.25" width="11.3" height="34.67" fill="#1b7a00"/>
<rect x="183.75" y="473.25" width="34.05" height="34.67" fill="#1b7a00"/>
<rect x="217.5" y="473.25" width="8.8" height="34.67" fill="#1b7a00"/>
<rect x="226" y="473.25" width="49.3" height="34.67" fill="#1b7a00"/>
<rect x="275" y="473.25" width="29.3" height="34.67" fill="#1b7a00"/>
<rect x="304" y="473.25" width="27.55" height="34.67" fill="#1b7a00"/>
<rect x="331.25" y="473.25" width="50.8" height="34.67" fill="#1b7a00"/>
<rect x="381.75" y="473.25" width="7.3" height="34.67" fill="#1d7a00"/>
<rect x="388.75" y="473.25" width="7.55" height="34.67" fill="#34d900"/>
<rect x="67.75" y="507.62" width="24.05" height="18.55" fill="#1c7a00"/>
<rect x="91.5" y="507.62" width="14.3" height="18.55" fill="#1c7a00"/>
<rect x="105.5" y="507.62" width="6.8" height="18.55" fill="#406b00"/>
<rect x="112" y="507.62" width="25.8" height="18.55" fill="#1c7a00"/>
<rect x="137.5" y="507.62" width="12.8" height="18.55" fill="#1c7a00"/>
<rect x="150" y="507.62" width="20.3" height="18.55" fill="#1c7a00"/>
<rect x="170" y="507.62" width="3.05" height="18.55" fill="#1c7a00"/>
<rect x="172.75" y="507.62" width="11.3" height="18.55" fill="#1b7a00"/>
<rect x="183.75" y="507.62" width="34.05" height="18.55" fill="#1b7a00"/>
<rect x="217.5" y="507.62" width="8.8" height="18.55" fill="#1b7a00"/>
<rect x="226" y="507.62" width="49.3" height="18.55" fill="#1b7a00"/>
<rect x="275" y="507.62" width="29.3" height="18.55" fill="#1b7a00"/>
<rect x="304" y="507.62" width="27.55" height="18.55" fill="#217a00"/>
<rect x="331.25" y="507.62" width="50.8" height="18.55" fill="#1b7a00"/>
<rect x="381.75" y="507.62" width="7.3" height="18.55" fill="#1b7a00"/>
<rect x="388.75" y="507.62" width="7.55" height="18.55" fill="#1d7a00"/>
<rect x="67.75" y="525.88" width="24.05" height="21.8" fill="#104000"/>
<rect x="91.5" y="525.88" width="14.3" height="21.8" fill="#104000"/>
<rect x="105.5" y="525.88" width="6.8" height="21.8" fill="#104000"/>
<rect x="112" y="525.88" width="25.8" height="21.8" fill="#32d900"/>
<rect x="137.5" y="525.88" width="12.8" height="21.8" fill="#2bd900"/>
<rect x="150" y="525.88" width="20.3" height="21.8" fill="#2cd900"/>
<rect x="170" y="525.88" width="3.05" height="21.8" fill="#1d7300"/>
<rect x="172.75" y="525.88" width="11.3" height="21.8" fill="#1d7300"/>
<rect x="183.75" y="525.88" width="34.05" height="21.8" fill="#1f7300"/>
<rect x="217.5" y="525.88" width="8.8" height="21.8" fill="#207300"/>
<rect x="226" y="525.88" width="49.3" height="21.8" fill="#1e7300"/>
<rect x="275" y="525.88" width="29.3" height="21.8" fill="#1e7300"/>
<rect x="304" y="525.88" width="27.55" height="21.8" fill="#0f4000"/>
<rect x="331.25" y="525.88" width="50.8" height="21.8" fill="#104000"/>
<rect x="381.75" y="525.88" width="7.3" height="21.8" fill="#104000"/>
<rect x="388.75" y="525.88" width="7.55" height="21.8" fill="#104000"/>
<rect x="67.75" y="547.38" width="24.05" height="48.42" fill="#0b4000"/>
<rect x="91.5" y="547.38" width="14.3" height="48.42" fill="#0b4000"/>
<rect x="105.5" y="547.38" width="6.8" height="48.42" fill="#0b4000"/>
<rect x="112" y="547.38" width="25.8" height="48.42" fill="#2ed900"/>
<rect x="137.5" y="547.38" width="12.8" height="48.42" fill="#2cd900"/>
<rect x="150" y="547.38" width="20.3" height="48.42" fill="#2bd900"/>
<rect x="170" y="547.38" width="3.05" height="48.42" fill="#1d8000"/>
<rect x="172.75" y="547.38" width="11.3" height="48.42" fill="#1e8000"/>
<rect x="183.75" y="547.38" width="34.05" height="48.42" fill="#24d900"/>
<rect x="217.5" y="547.38" width="8.8" height="48.42" fill="#26d900"/>
<rect x="226" y="547.38" width="49.3" height="48.42" fill="#29d900"/>
<rect x="275" y="547.38" width="29.3" height="48.42" fill="#29d900"/>
<rect x="304" y="547.38" width="27.55" height="48.42" fill="#0b4000"/>
<rect x="331.25" y="547.38" width="50.8" height="48.42" fill="#0a4000"/>
<rect x="381.75" y="547.38" width="7.3" height="48.42" fill="#0d4000"/>
<rect x="388.75" y="547.38" width="7.55" height="48.42" fill="#104000"/>
<rect x="67.75" y="595.5" width="24.05" height="20.43" fill="#0f4000"/>
<rect x="91.5" y="595.5" width="14.3" height="20.43" fill="#104000"/>
<rect x="105.5" y="595.5" width="6.8" height="20.43" fill="#1a7a00"/>
<rect x="112" y="595.5" width="25.8" height="20.43" fill="#24d900"/>
<rect x="137.5" y="595.5" width="12.8" height="20.43" fill="#31d900"/>
<rect x="150" y="595.5" width="20.3" height="20.43" fill="#26d900"/>
<rect x="170" y="595.5" width="3.05" height="20.43" fill="#1b7a00"/>
<rect x="172.75" y="595.5" width="11.3" height="20.43" fill="#1b7a00"/>
<rect x="183.75" y="595.5" width="34.05" height="20.43" fill="#1d7a00"/>
<rect x="217.5" y="595.5" width="8.8" height="20.43" fill="#1d7a00"/>
<rect x="226" y="595.5" width="49.3" height="20.43" fill="#1d7a00"/>
<rect x="275" y="595.5" width="29.3" height="20.43" fill="#1c7a00"/>
<rect x="304" y="595.5" width="27.55" height="20.43" fill="#28d900"/>
<rect x="331.25" y="595.5" width="50.8" height="20.43" fill="#104000"/>
<rect x="381.75" y="595.5" width="7.3" height="20.43" fill="#104000"/>
<rect x="388.75" y="595.5" width="7.55" height="20.43" fill="#0f4000"/>
<rect x="67.75" y="615.62" width="24.05" height="74.55" fill="#104000"/>
<rect x="91.5" y="615.62" width="14.3" height="74.55" fill="#104000"/>
<rect x="105.5" y="615.62" width="6.8" height="74.55" fill="#0f4000"/>
<rect x="112" y="615.62" width="25.8" height="74.55" fill="#155c00"/>
<rect x="137.5" y="615.62" width="12.8" height="74.55" fill="#155c00"/>
<rect x="150" y="615.62" width="20.3" height="74.55" fill="#175c00"/>
<rect x="170" y="615.62" width="3.05" height="74.55" fill="#205c00"/>
<rect x="172.75" y="615.62" width="11.3" height="74.55" fill="#215c00"/>
<rect x="183.75" y="615.62" width="34.05" height="74.55" fill="#406b00"/>
<rect x="217.5" y="615.62" width="8.8" height="74.55" fill="#215c00"/>
<rect x="226" y="615.62" width="49.3" height="74.55" fill="#26d900"/>
<rect x="275" y="615.62" width="29.3" height="74.55" fill="#34d900"/>
<rect x="304" y="615.62" width="27.55" height="74.55" fill="#0f4000"/>
<rect x="331.25" y="615.62" width="50.8" height="74.55" fill="#0d4000"/>
<rect x="381.75" y="615.62" width="7.3" height="74.55" fill="#104000"/>
<rect x="388.75" y="615.62" width="7.55" height="74.55" fill="#0e4000"/>
<rect x="67.75" y="689.88" width="24.05" height="44.67" fill="#0d4000"/>
<rect x="91.5" y="689.88" width="14.3" height="44.67" fill="#0d4000"/>
<rect x="105.5" y="689.88" width="6.8" height="44.67" fill="#0f4000"/>
<rect x="112" y="689.88" width="25.8" height="44.67" fill="#24d900"/>
<rect x="137.5" y="689.88" width="12.8" height="44.67" fill="#227300"/>
<rect x="150" y="689.88" width="20.3" height="44.67" fill="#23d900"/>
<rect x="170" y="689.88" width="3.05" height="44.67" fill="#207300"/>
<rect x="172.75" y="689.88" width="11.3" height="44.67" fill="#207300"/>
<rect x="183.75" y="689.88" width="34.05" height="44.67" fill="#33d900"/>
<rect x="217.5" y="689.88" width="8.8" height="44.67" fill="#24d900"/>
<rect x="226" y="689.88" width="49.3" height="44.67" fill="#2bd900"/>
<rect x="275" y="689.88" width="29.3" height="44.67" fill="#32d900"/>
<rect x="304" y="689.88" width="27.55" height="44.67" fill="#0f4000"/>
<rect x="331.25" y="689.88" width="50.8" height="44.67" fill="#0d4000"/>
<rect x="381.75" y="689.88" width="7.3" height="44.67" fill="#0f4000"/>
<rect x="388.75" y="689.88" width="7.55" height="44.67" fill="#0e4000"/>
<rect x="67.75" y="734.25" width="24.05" height="93.05" fill="#104000"/>
<rect x="91.5" y="734.25" width="14.3" height="93.05" fill="#104000"/>
<rect x="105.5" y="734.25" width="6.8" height="93.05" fill="#0f4000"/>
<rect x="112" y="734.25" width="25.8" height="93.05" fill="#145c00"/>
<rect x="137.5" y="734.25" width="12.8" height="93.05" fill="#155c00"/>
<rect x="150" y="734.25" width="20.3" height="93.05" fill="#185c00"/>
<rect x="170" y="734.25" width="3.05" height="93.05" fill="#205c00"/>
<rect x="172.75" y="734.25" width="11.3" height="93.05" fill="#215c00"/>
<rect x="183.75" y="734.25" width="34.05" height="93.05" fill="#33d900"/>
<rect x="217.5" y="734.25" width="8.8" height="93.05" fill="#24d900"/>
<rect x="226" y="734.25" width="49.3" height="93.05" fill="#33d900"/>
<rect x="275" y="734.25" width="29.3" height="93.05" fill="#33d900"/>
<rect x="304" y="734.25" width="27.55" height="93.05" fill="#0f4000"/>
<rect x="331.25" y="734.25" width="50.8" height="93.05" fill="#0d4000"/>
<rect x="381.75" y="734.25" width="7.3" height="93.05" fill="#0f4000"/>
<rect x="388.75" y="734.25" width="7.55" height="93.05" fill="#0e4000"/>
<rect x="183.75" y="734.25" width="11" height="93.05" fill="#25d900"/>
<rect x="194.75" y="734.25" width="22.75" height="93.05" fill="#38d900"/>
<rect x="67.75" y="827" width="24.05" height="77.17" fill="#104000"/>
<rect x="91.5" y="827" width="14.3" height="77.17" fill="#104000"/>
<rect x="105.5" y="827" width="6.8" height="77.17" fill="#0f4000"/>
<rect x="112" y="827" width="25.8" height="77.17" fill="#1d6600"/>
<rect x="137.5" y="827" width="12.8" height="77.17" fill="#1d6600"/>
<rect x="150" y="827" width="20.3" height="77.17" fill="#1e6600"/>
<rect x="170" y="827" width="3.05" height="77.17" fill="#206600"/>
<rect x="172.75" y="827" width="11.3" height="77.17" fill="#216600"/>
<rect x="183.75" y="827" width="34.05" height="77.17" fill="#24d900"/>
<rect x="217.5" y="827" width="8.8" height="77.17" fill="#24d900"/>
<rect x="226" y="827" width="49.3" height="77.17" fill="#32d900"/>
<rect x="275" y="827" width="29.3" height="77.17" fill="#32d900"/>
<rect x="304" y="827" width="27.55" height="77.17" fill="#104000"/>
<rect x="331.25" y="827" width="50.8" height="77.17" fill="#0f4000"/>
<rect x="381.75" y="827" width="7.3" height="77.17" fill="#104000"/>
<rect x="388.75" y="827" width="7.55" height="77.17" fill="#0e4000"/>
<rect x="67.75" y="903.88" width="24.05" height="29.93" fill="#1b5c00"/>
<rect x="91.5" y="903.88" width="14.3" height="29.93" fill="#1b5c00"/>
<rect x="105.5" y="903.88" width="6.8" height="29.93" fill="#205c00"/>
<rect x="112" y="903.88" width="25.8" height="29.93" fill="#1b5c00"/>
<rect x="137.5" y="903.88" width="12.8" height="29.93" fill="#1b5c00"/>
<rect x="150" y="903.88" width="20.3" height="29.93" fill="#1b5c00"/>
<rect x="170" y="903.88" width="3.05" height="29.93" fill="#1b5c00"/>
<rect x="172.75" y="903.88" width="11.3" height="29.93" fill="#1b5c00"/>
<rect x="183.75" y="903.88" width="34.05" height="29.93" fill="#1a5c00"/>
<rect x="217.5" y="903.88" width="8.8" height="29.93" fill="#205c00"/>
<rect x="226" y="903.88" width="49.3" height="29.93" fill="#1a5c00"/>
<rect x="275" y="903.88" width="29.3" height="29.93" fill="#1a5c00"/>
<rect x="304" y="903.88" width="27.55" height="29.93" fill="#406b00"/>
<rect x="331.25" y="903.88" width="50.8" height="29.93" fill="#1b5c00"/>
<rect x="381.75" y="903.88" width="7.3" height="29.93" fill="#1b5c00"/>
<rect x="388.75" y="903.88" width="7.55" height="29.93" fill="#1b5c00"/>
<rect x="67.75" y="933.5" width="24.05" height="33.05" fill="#185400"/>
<rect x="91.5" y="933.5" width="14.3" height="33.05" fill="#185400"/>
<rect x="105.5" y="933.5" width="6.8" height="33.05" fill="#215400"/>
<rect x="112" y="933.5" width="25.8" height="33.05" fill="#155400"/>
<rect x="137.5" y="933.5" width="12.8" height="33.05" fill="#155400"/>
<rect x="150" y="933.5" width="20.3" height="33.05" fill="#155400"/>
<rect x="170" y="933.5" width="3.05" height="33.05" fill="#185400"/>
<rect x="172.75" y="933.5" width="11.3" height="33.05" fill="#225400"/>
<rect x="183.75" y="933.5" width="34.05" height="33.05" fill="#124000"/>
<rect x="217.5" y="933.5" width="8.8" height="33.05" fill="#1a5400"/>
<rect x="226" y="933.5" width="49.3" height="33.05" fill="#114000"/>
<rect x="275" y="933.5" width="29.3" height="33.05" fill="#114000"/>
<rect x="304" y="933.5" width="27.55" height="33.05" fill="#30d900"/>
<rect x="331.25" y="933.5" width="50.8" height="33.05" fill="#34d900"/>
<rect x="381.75" y="933.5" width="7.3" height="33.05" fill="#2bd900"/>
<rect x="388.75" y="933.5" width="7.55" height="33.05" fill="#1d5400"/>
<rect x="67.75" y="966.25" width="24.05" height="77.8" fill="#1a5c00"/>
<rect x="91.5" y="966.25" width="14.3" height="77.8" fill="#1a5c00"/>
<rect x="105.5" y="966.25" width="6.8" height="77.8" fill="#1b5c00"/>
<rect x="112" y="966.25" width="25.8" height="77.8" fill="#1a5c00"/>
<rect x="137.5" y="966.25" width="12.8" height="77.8" fill="#1a5c00"/>
<rect x="150" y="966.25" width="20.3" height="77.8" fill="#1a5c00"/>
<rect x="170" y="966.25" width="3.05" height="77.8" fill="#1a5c00"/>
<rect x="172.75" y="966.25" width="11.3" height="77.8" fill="#24d900"/>
<rect x="183.75" y="966.25" width="34.05" height="77.8" fill="#185c00"/>
<rect x="217.5" y="966.25" width="8.8" height="77.8" fill="#1a5c00"/>
<rect x="226" y="966.25" width="49.3" height="77.8" fill="#185c00"/>
<rect x="275" y="966.25" width="29.3" height="77.8" fill="#185c00"/>
<rect x="304" y="966.25" width="27.55" height="77.8" fill="#1b5c00"/>
<rect x="331.25" y="966.25" width="50.8" height="77.8" fill="#406b00"/>
<rect x="381.75" y="966.25" width="7.3" height="77.8" fill="#2ed900"/>
<rect x="388.75" y="966.25" width="7.55" height="77.8" fill="#1b5c00"/>
<rect x="304" y="966.25" width="2.75" height="77.8" fill="#2ad900"/>
</g>
<g fill="#fff" shape-rendering="crispEdges">
<rect x="66.75" y="147" width="330.25" height="5.5" fill="#fff"/>
<rect x="66.75" y="223" width="330.25" height="5.5" fill="#fff"/>
<rect x="66.75" y="281.75" width="330.25" height="5.25" fill="#fff"/>
<rect x="66.75" y="327.5" width="330.25" height="5.5" fill="#fff"/>
<rect x="66.75" y="367" width="330.25" height="5.5" fill="#fff"/>
<rect x="66.75" y="415" width="330.25" height="5" fill="#fff"/>
<rect x="66.75" y="431" width="330.25" height="5.25" fill="#fff"/>
<rect x="66.75" y="470.75" width="330.25" height="5" fill="#fff"/>
<rect x="66.75" y="505" width="330.25" height="5.25" fill="#fff"/>
<rect x="66.75" y="523.5" width="330.25" height="4.75" fill="#fff"/>
<rect x="66.75" y="544.75" width="330.25" height="5.25" fill="#fff"/>
<rect x="66.75" y="592.75" width="330.25" height="5.5" fill="#fff"/>
<rect x="66.75" y="612.75" width="330.25" height="5.75" fill="#fff"/>
<rect x="66.75" y="687.25" width="330.25" height="5.25" fill="#fff"/>
<rect x="66.75" y="731.5" width="330.25" height="5.5" fill="#fff"/>
<rect x="66.75" y="824" width="330.25" height="6" fill="#fff"/>
<rect x="66.75" y="901.25" width="330.25" height="5.25" fill="#fff"/>
<rect x="66.75" y="930.75" width="330.25" height="5.5" fill="#fff"/>
<rect x="66.75" y="963.75" width="330.25" height="5" fill="#fff"/>
<rect x="65.75" y="105" width="332.25" height="5" fill="#fff"/>
<rect x="65.75" y="1040.75" width="332.25" height="5" fill="#fff"/>
<rect x="65.75" y="105" width="5" height="940.75" fill="#fff"/>
<rect x="393" y="105" width="5" height="940.75" fill="#fff"/>
</g>
<g filter="url(#fr)" shape-rendering="crispEdges">
<rect x="405.75" y="107" width="24.05" height="43.05" fill="#3e2600"/>
<rect x="429.5" y="107" width="14.3" height="43.05" fill="#369900"/>
<rect x="443.5" y="107" width="6.8" height="43.05" fill="#237900"/>
<rect x="450" y="107" width="25.8" height="43.05" fill="#1d6800"/>
<rect x="475.5" y="107" width="12.8" height="43.05" fill="#1d6800"/>
<rect x="488" y="107" width="20.3" height="43.05" fill="#1c6800"/>
<rect x="508" y="107" width="3.05" height="43.05" fill="#396600"/>
<rect x="510.75" y="107" width="11.3" height="43.05" fill="#1b5700"/>
<rect x="521.75" y="107" width="34.05" height="43.05" fill="#184e00"/>
<rect x="555.5" y="107" width="8.8" height="43.05" fill="#185700"/>
<rect x="564" y="107" width="49.3" height="43.05" fill="#184e00"/>
<rect x="613" y="107" width="29.3" height="43.05" fill="#1a4e00"/>
<rect x="642" y="107" width="27.55" height="43.05" fill="#1e7900"/>
<rect x="669.25" y="107" width="50.8" height="43.05" fill="#1c7900"/>
<rect x="719.75" y="107" width="7.3" height="43.05" fill="#1b6800"/>
<rect x="726.75" y="107" width="7.55" height="43.05" fill="#3b6600"/>
<rect x="562.75" y="107" width="1.3" height="43.05" fill="#245700"/>
<rect x="405.75" y="149.75" width="24.05" height="76.3" fill="#402600"/>
<rect x="429.5" y="149.75" width="14.3" height="76.3" fill="#26e500"/>
<rect x="443.5" y="149.75" width="6.8" height="76.3" fill="#207900"/>
<rect x="450" y="149.75" width="25.8" height="76.3" fill="#1e6800"/>
<rect x="475.5" y="149.75" width="12.8" height="76.3" fill="#1d6800"/>
<rect x="488" y="149.75" width="20.3" height="76.3" fill="#1d6800"/>
<rect x="508" y="149.75" width="3.05" height="76.3" fill="#3d6600"/>
<rect x="510.75" y="149.75" width="11.3" height="76.3" fill="#1b5700"/>
<rect x="521.75" y="149.75" width="34.05" height="76.3" fill="#1a4e00"/>
<rect x="555.5" y="149.75" width="8.8" height="76.3" fill="#1a5700"/>
<rect x="564" y="149.75" width="49.3" height="76.3" fill="#1a4e00"/>
<rect x="613" y="149.75" width="29.3" height="76.3" fill="#1a4e00"/>
<rect x="642" y="149.75" width="27.55" height="76.3" fill="#1b7900"/>
<rect x="669.25" y="149.75" width="50.8" height="76.3" fill="#1a7900"/>
<rect x="719.75" y="149.75" width="7.3" height="76.3" fill="#1b6800"/>
<rect x="726.75" y="149.75" width="7.55" height="76.3" fill="#3d6600"/>
<rect x="562.75" y="149.75" width="1.3" height="76.3" fill="#245700"/>
<rect x="405.75" y="225.75" width="24.05" height="58.92" fill="#402600"/>
<rect x="429.5" y="225.75" width="14.3" height="58.92" fill="#26e500"/>
<rect x="443.5" y="225.75" width="6.8" height="58.92" fill="#207900"/>
<rect x="450" y="225.75" width="25.8" height="58.92" fill="#1e6800"/>
<rect x="475.5" y="225.75" width="12.8" height="58.92" fill="#1d6800"/>
<rect x="488" y="225.75" width="20.3" height="58.92" fill="#1d6800"/>
<rect x="508" y="225.75" width="3.05" height="58.92" fill="#3d6600"/>
<rect x="510.75" y="225.75" width="11.3" height="58.92" fill="#1b5700"/>
<rect x="521.75" y="225.75" width="34.05" height="58.92" fill="#1a4e00"/>
<rect x="555.5" y="225.75" width="8.8" height="58.92" fill="#1a5700"/>
<rect x="564" y="225.75" width="49.3" height="58.92" fill="#1a4e00"/>
<rect x="613" y="225.75" width="29.3" height="58.92" fill="#1a4e00"/>
<rect x="642" y="225.75" width="27.55" height="58.92" fill="#1b7900"/>
<rect x="669.25" y="225.75" width="50.8" height="58.92" fill="#187900"/>
<rect x="719.75" y="225.75" width="7.3" height="58.92" fill="#1b6800"/>
<rect x="726.75" y="225.75" width="7.55" height="58.92" fill="#3d6600"/>
<rect x="562.75" y="225.75" width="1.3" height="58.92" fill="#245700"/>
<rect x="405.75" y="284.38" width="24.05" height="46.17" fill="#402600"/>
<rect x="429.5" y="284.38" width="14.3" height="46.17" fill="#26e500"/>
<rect x="443.5" y="284.38" width="6.8" height="46.17" fill="#207900"/>
<rect x="450" y="284.38" width="25.8" height="46.17" fill="#1e6800"/>
<rect x="475.5" y="284.38" width="12.8" height="46.17" fill="#1d6800"/>
<rect x="488" y="284.38" width="20.3" height="46.17" fill="#1d6800"/>
<rect x="508" y="284.38" width="3.05" height="46.17" fill="#3d6600"/>
<rect x="510.75" y="284.38" width="11.3" height="46.17" fill="#1b5700"/>
<rect x="521.75" y="284.38" width="34.05" height="46.17" fill="#1a4e00"/>
<rect x="555.5" y="284.38" width="8.8" height="46.17" fill="#1a5700"/>
<rect x="564" y="284.38" width="49.3" height="46.17" fill="#1a4e00"/>
<rect x="613" y="284.38" width="29.3" height="46.17" fill="#1a4e00"/>
<rect x="642" y="284.38" width="27.55" height="46.17" fill="#187900"/>
<rect x="669.25" y="284.38" width="50.8" height="46.17" fill="#177900"/>
<rect x="719.75" y="284.38" width="7.3" height="46.17" fill="#1b6800"/>
<rect x="726.75" y="284.38" width="7.55" height="46.17" fill="#3d6600"/>
<rect x="562.75" y="284.38" width="1.3" height="46.17" fill="#245700"/>
<rect x="405.75" y="330.25" width="24.05" height="39.8" fill="#402600"/>
<rect x="429.5" y="330.25" width="14.3" height="39.8" fill="#26e500"/>
<rect x="443.5" y="330.25" width="6.8" height="39.8" fill="#207900"/>
<rect x="450" y="330.25" width="25.8" height="39.8" fill="#1e6800"/>
<rect x="475.5" y="330.25" width="12.8" height="39.8" fill="#1d6800"/>
<rect x="488" y="330.25" width="20.3" height="39.8" fill="#1d6800"/>
<rect x="508" y="330.25" width="3.05" height="39.8" fill="#3d6600"/>
<rect x="510.75" y="330.25" width="11.3" height="39.8" fill="#1b5700"/>
<rect x="521.75" y="330.25" width="34.05" height="39.8" fill="#1a4e00"/>
<rect x="555.5" y="330.25" width="8.8" height="39.8" fill="#1a5700"/>
<rect x="564" y="330.25" width="49.3" height="39.8" fill="#1a4e00"/>
<rect x="613" y="330.25" width="29.3" height="39.8" fill="#1a4e00"/>
<rect x="642" y="330.25" width="27.55" height="39.8" fill="#1a7900"/>
<rect x="669.25" y="330.25" width="50.8" height="39.8" fill="#187900"/>
<rect x="719.75" y="330.25" width="7.3" height="39.8" fill="#1b6800"/>
<rect x="726.75" y="330.25" width="7.55" height="39.8" fill="#3d6600"/>
<rect x="562.75" y="330.25" width="1.3" height="39.8" fill="#245700"/>
<rect x="405.75" y="369.75" width="24.05" height="48.05" fill="#2b9900"/>
<rect x="429.5" y="369.75" width="14.3" height="48.05" fill="#2be500"/>
<rect x="443.5" y="369.75" width="6.8" height="48.05" fill="#28d600"/>
<rect x="450" y="369.75" width="25.8" height="48.05" fill="#158100"/>
<rect x="475.5" y="369.75" width="12.8" height="48.05" fill="#158100"/>
<rect x="488" y="369.75" width="20.3" height="48.05" fill="#158100"/>
<rect x="508" y="369.75" width="3.05" height="48.05" fill="#269900"/>
<rect x="510.75" y="369.75" width="11.3" height="48.05" fill="#299900"/>
<rect x="521.75" y="369.75" width="34.05" height="48.05" fill="#116000"/>
<rect x="555.5" y="369.75" width="8.8" height="48.05" fill="#1a6b00"/>
<rect x="564" y="369.75" width="49.3" height="48.05" fill="#106000"/>
<rect x="613" y="369.75" width="29.3" height="48.05" fill="#106000"/>
<rect x="642" y="369.75" width="27.55" height="48.05" fill="#26d600"/>
<rect x="669.25" y="369.75" width="50.8" height="48.05" fill="#398f00"/>
<rect x="719.75" y="369.75" width="7.3" height="48.05" fill="#2db800"/>
<rect x="726.75" y="369.75" width="7.55" height="48.05" fill="#269900"/>
<rect x="405.75" y="417.5" width="24.05" height="16.43" fill="#1a5200"/>
<rect x="429.5" y="417.5" width="14.3" height="16.43" fill="#403900"/>
<rect x="443.5" y="417.5" width="6.8" height="16.43" fill="#398f00"/>
<rect x="450" y="417.5" width="25.8" height="16.43" fill="#1c6200"/>
<rect x="475.5" y="417.5" width="12.8" height="16.43" fill="#1c6200"/>
<rect x="488" y="417.5" width="20.3" height="16.43" fill="#1c6200"/>
<rect x="508" y="417.5" width="3.05" height="16.43" fill="#205200"/>
<rect x="510.75" y="417.5" width="11.3" height="16.43" fill="#1c5200"/>
<rect x="521.75" y="417.5" width="34.05" height="16.43" fill="#1c4900"/>
<rect x="555.5" y="417.5" width="8.8" height="16.43" fill="#1c5200"/>
<rect x="564" y="417.5" width="49.3" height="16.43" fill="#1c4900"/>
<rect x="613" y="417.5" width="29.3" height="16.43" fill="#1c4900"/>
<rect x="642" y="417.5" width="27.55" height="16.43" fill="#207200"/>
<rect x="669.25" y="417.5" width="50.8" height="16.43" fill="#1d7200"/>
<rect x="719.75" y="417.5" width="7.3" height="16.43" fill="#3d7a00"/>
<rect x="726.75" y="417.5" width="7.55" height="16.43" fill="#1a5200"/>
<rect x="562.75" y="417.5" width="1.3" height="16.43" fill="#245200"/>
<rect x="405.75" y="433.62" width="24.05" height="39.92" fill="#1b5200"/>
<rect x="429.5" y="433.62" width="14.3" height="39.92" fill="#403900"/>
<rect x="443.5" y="433.62" width="6.8" height="39.92" fill="#1d7200"/>
<rect x="450" y="433.62" width="25.8" height="39.92" fill="#1c6200"/>
<rect x="475.5" y="433.62" width="12.8" height="39.92" fill="#1c6200"/>
<rect x="488" y="433.62" width="20.3" height="39.92" fill="#1c6200"/>
<rect x="508" y="433.62" width="3.05" height="39.92" fill="#205200"/>
<rect x="510.75" y="433.62" width="11.3" height="39.92" fill="#1c5200"/>
<rect x="521.75" y="433.62" width="34.05" height="39.92" fill="#1c4900"/>
<rect x="555.5" y="433.62" width="8.8" height="39.92" fill="#1c5200"/>
<rect x="564" y="433.62" width="49.3" height="39.92" fill="#1c4900"/>
<rect x="613" y="433.62" width="29.3" height="39.92" fill="#1c4900"/>
<rect x="642" y="433.62" width="27.55" height="39.92" fill="#1d7200"/>
<rect x="669.25" y="433.62" width="50.8" height="39.92" fill="#1a7200"/>
<rect x="719.75" y="433.62" width="7.3" height="39.92" fill="#3d7a00"/>
<rect x="726.75" y="433.62" width="7.55" height="39.92" fill="#1a5200"/>
<rect x="562.75" y="433.62" width="1.3" height="39.92" fill="#245200"/>
<rect x="405.75" y="473.25" width="24.05" height="34.67" fill="#1b5200"/>
<rect x="429.5" y="473.25" width="14.3" height="34.67" fill="#403900"/>
<rect x="443.5" y="473.25" width="6.8" height="34.67" fill="#1d7200"/>
<rect x="450" y="473.25" width="25.8" height="34.67" fill="#1c6200"/>
<rect x="475.5" y="473.25" width="12.8" height="34.67" fill="#1c6200"/>
<rect x="488" y="473.25" width="20.3" height="34.67" fill="#1c6200"/>
<rect x="508" y="473.25" width="3.05" height="34.67" fill="#205200"/>
<rect x="510.75" y="473.25" width="11.3" height="34.67" fill="#1c5200"/>
<rect x="521.75" y="473.25" width="34.05" height="34.67" fill="#1c4900"/>
<rect x="555.5" y="473.25" width="8.8" height="34.67" fill="#1c5200"/>
<rect x="564" y="473.25" width="49.3" height="34.67" fill="#1c4900"/>
<rect x="613" y="473.25" width="29.3" height="34.67" fill="#1c4900"/>
<rect x="642" y="473.25" width="27.55" height="34.67" fill="#1b7200"/>
<rect x="669.25" y="473.25" width="50.8" height="34.67" fill="#187200"/>
<rect x="719.75" y="473.25" width="7.3" height="34.67" fill="#3d7a00"/>
<rect x="726.75" y="473.25" width="7.55" height="34.67" fill="#1a5200"/>
<rect x="562.75" y="473.25" width="1.3" height="34.67" fill="#245200"/>
<rect x="405.75" y="507.62" width="24.05" height="18.55" fill="#1d5200"/>
<rect x="429.5" y="507.62" width="14.3" height="18.55" fill="#207a00"/>
<rect x="443.5" y="507.62" width="6.8" height="18.55" fill="#403600"/>
<rect x="450" y="507.62" width="25.8" height="18.55" fill="#1c6200"/>
<rect x="475.5" y="507.62" width="12.8" height="18.55" fill="#1c6200"/>
<rect x="488" y="507.62" width="20.3" height="18.55" fill="#1c6200"/>
<rect x="508" y="507.62" width="3.05" height="18.55" fill="#269900"/>
<rect x="510.75" y="507.62" width="11.3" height="18.55" fill="#1c5200"/>
<rect x="521.75" y="507.62" width="34.05" height="18.55" fill="#1c4900"/>
<rect x="555.5" y="507.62" width="8.8" height="18.55" fill="#1c5200"/>
<rect x="564" y="507.62" width="49.3" height="18.55" fill="#1c4900"/>
<rect x="613" y="507.62" width="29.3" height="18.55" fill="#1c4900"/>
<rect x="642" y="507.62" width="27.55" height="18.55" fill="#207200"/>
<rect x="669.25" y="507.62" width="50.8" height="18.55" fill="#1b7200"/>
<rect x="719.75" y="507.62" width="7.3" height="18.55" fill="#206200"/>
<rect x="726.75" y="507.62" width="7.55" height="18.55" fill="#235200"/>
<rect x="562.75" y="507.62" width="1.3" height="18.55" fill="#245200"/>
<rect x="405.75" y="525.88" width="24.05" height="21.8" fill="#0d4c00"/>
<rect x="429.5" y="525.88" width="14.3" height="21.8" fill="#109900"/>
<rect x="443.5" y="525.88" width="6.8" height="21.8" fill="#108f00"/>
<rect x="450" y="525.88" width="25.8" height="21.8" fill="#3d7a00"/>
<rect x="475.5" y="525.88" width="12.8" height="21.8" fill="#367a00"/>
<rect x="488" y="525.88" width="20.3" height="21.8" fill="#387a00"/>
<rect x="508" y="525.88" width="3.05" height="21.8" fill="#236600"/>
<rect x="510.75" y="525.88" width="11.3" height="21.8" fill="#1a6600"/>
<rect x="521.75" y="525.88" width="34.05" height="21.8" fill="#1e5c00"/>
<rect x="555.5" y="525.88" width="8.8" height="21.8" fill="#2d9900"/>
<rect x="564" y="525.88" width="49.3" height="21.8" fill="#1e5c00"/>
<rect x="613" y="525.88" width="29.3" height="21.8" fill="#1e5c00"/>
<rect x="642" y="525.88" width="27.55" height="21.8" fill="#1a8f00"/>
<rect x="669.25" y="525.88" width="50.8" height="21.8" fill="#0d6b00"/>
<rect x="719.75" y="525.88" width="7.3" height="21.8" fill="#107a00"/>
<rect x="726.75" y="525.88" width="7.55" height="21.8" fill="#136600"/>
<rect x="513.75" y="525.88" width="6.7" height="21.8" fill="#064c00"/>
<rect x="405.75" y="547.38" width="24.05" height="48.42" fill="#084c00"/>
<rect x="429.5" y="547.38" width="14.3" height="48.42" fill="#0b7300"/>
<rect x="443.5" y="547.38" width="6.8" height="48.42" fill="#0b6b00"/>
<rect x="450" y="547.38" width="25.8" height="48.42" fill="#387a00"/>
<rect x="475.5" y="547.38" width="12.8" height="48.42" fill="#337a00"/>
<rect x="488" y="547.38" width="20.3" height="48.42" fill="#367a00"/>
<rect x="508" y="547.38" width="3.05" height="48.42" fill="#236600"/>
<rect x="510.75" y="547.38" width="11.3" height="48.42" fill="#1a6600"/>
<rect x="521.75" y="547.38" width="34.05" height="48.42" fill="#328a00"/>
<rect x="555.5" y="547.38" width="8.8" height="48.42" fill="#2d9900"/>
<rect x="564" y="547.38" width="49.3" height="48.42" fill="#308a00"/>
<rect x="613" y="547.38" width="29.3" height="48.42" fill="#335c00"/>
<rect x="642" y="547.38" width="27.55" height="48.42" fill="#118f00"/>
<rect x="669.25" y="547.38" width="50.8" height="48.42" fill="#066b00"/>
<rect x="719.75" y="547.38" width="7.3" height="48.42" fill="#0d5c00"/>
<rect x="726.75" y="547.38" width="7.55" height="48.42" fill="#136600"/>
<rect x="513.75" y="547.38" width="6.7" height="48.42" fill="#064c00"/>
<rect x="405.75" y="595.5" width="24.05" height="20.43" fill="#0d4c00"/>
<rect x="429.5" y="595.5" width="14.3" height="20.43" fill="#109900"/>
<rect x="443.5" y="595.5" width="6.8" height="20.43" fill="#108f00"/>
<rect x="450" y="595.5" width="25.8" height="20.43" fill="#367a00"/>
<rect x="475.5" y="595.5" width="12.8" height="20.43" fill="#30b800"/>
<rect x="488" y="595.5" width="20.3" height="20.43" fill="#337a00"/>
<rect x="508" y="595.5" width="3.05" height="20.43" fill="#236600"/>
<rect x="510.75" y="595.5" width="11.3" height="20.43" fill="#1a6600"/>
<rect x="521.75" y="595.5" width="34.05" height="20.43" fill="#1e5c00"/>
<rect x="555.5" y="595.5" width="8.8" height="20.43" fill="#269900"/>
<rect x="564" y="595.5" width="49.3" height="20.43" fill="#1e5c00"/>
<rect x="613" y="595.5" width="29.3" height="20.43" fill="#1e5c00"/>
<rect x="642" y="595.5" width="27.55" height="20.43" fill="#1d8f00"/>
<rect x="669.25" y="595.5" width="50.8" height="20.43" fill="#0d6b00"/>
<rect x="719.75" y="595.5" width="7.3" height="20.43" fill="#107a00"/>
<rect x="726.75" y="595.5" width="7.55" height="20.43" fill="#136600"/>
<rect x="513.75" y="595.5" width="6.7" height="20.43" fill="#064c00"/>
<rect x="405.75" y="615.62" width="24.05" height="74.55" fill="#0b4c00"/>
<rect x="429.5" y="615.62" width="14.3" height="74.55" fill="#0e9900"/>
<rect x="443.5" y="615.62" width="6.8" height="74.55" fill="#0d6b00"/>
<rect x="450" y="615.62" width="25.8" height="74.55" fill="#1e7a00"/>
<rect x="475.5" y="615.62" width="12.8" height="74.55" fill="#1e7a00"/>
<rect x="488" y="615.62" width="20.3" height="74.55" fill="#1e7a00"/>
<rect x="508" y="615.62" width="3.05" height="74.55" fill="#236600"/>
<rect x="510.75" y="615.62" width="11.3" height="74.55" fill="#1a6600"/>
<rect x="521.75" y="615.62" width="34.05" height="74.55" fill="#3d5c00"/>
<rect x="555.5" y="615.62" width="8.8" height="74.55" fill="#299900"/>
<rect x="564" y="615.62" width="49.3" height="74.55" fill="#308a00"/>
<rect x="613" y="615.62" width="29.3" height="74.55" fill="#395c00"/>
<rect x="642" y="615.62" width="27.55" height="74.55" fill="#0e8f00"/>
<rect x="669.25" y="615.62" width="50.8" height="74.55" fill="#086b00"/>
<rect x="719.75" y="615.62" width="7.3" height="74.55" fill="#0b5c00"/>
<rect x="726.75" y="615.62" width="7.55" height="74.55" fill="#106600"/>
<rect x="513.75" y="615.62" width="6.7" height="74.55" fill="#064c00"/>
<rect x="405.75" y="689.88" width="24.05" height="44.67" fill="#0a4c00"/>
<rect x="429.5" y="689.88" width="14.3" height="44.67" fill="#0d7300"/>
<rect x="443.5" y="689.88" width="6.8" height="44.67" fill="#0d6b00"/>
<rect x="450" y="689.88" width="25.8" height="44.67" fill="#237a00"/>
<rect x="475.5" y="689.88" width="12.8" height="44.67" fill="#237a00"/>
<rect x="488" y="689.88" width="20.3" height="44.67" fill="#237a00"/>
<rect x="508" y="689.88" width="3.05" height="44.67" fill="#236600"/>
<rect x="510.75" y="689.88" width="11.3" height="44.67" fill="#1a6600"/>
<rect x="521.75" y="689.88" width="34.05" height="44.67" fill="#3d5c00"/>
<rect x="555.5" y="689.88" width="8.8" height="44.67" fill="#2d9900"/>
<rect x="564" y="689.88" width="49.3" height="44.67" fill="#308a00"/>
<rect x="613" y="689.88" width="29.3" height="44.67" fill="#395c00"/>
<rect x="642" y="689.88" width="27.55" height="44.67" fill="#0e8f00"/>
<rect x="669.25" y="689.88" width="50.8" height="44.67" fill="#086b00"/>
<rect x="719.75" y="689.88" width="7.3" height="44.67" fill="#0b5c00"/>
<rect x="726.75" y="689.88" width="7.55" height="44.67" fill="#106600"/>
<rect x="513.75" y="689.88" width="6.7" height="44.67" fill="#064c00"/>
<rect x="405.75" y="734.25" width="24.05" height="93.05" fill="#0b4c00"/>
<rect x="429.5" y="734.25" width="14.3" height="93.05" fill="#0e9900"/>
<rect x="443.5" y="734.25" width="6.8" height="93.05" fill="#0e8f00"/>
<rect x="450" y="734.25" width="25.8" height="93.05" fill="#207a00"/>
<rect x="475.5" y="734.25" width="12.8" height="93.05" fill="#207a00"/>
<rect x="488" y="734.25" width="20.3" height="93.05" fill="#207a00"/>
<rect x="508" y="734.25" width="3.05" height="93.05" fill="#236600"/>
<rect x="510.75" y="734.25" width="11.3" height="93.05" fill="#1a6600"/>
<rect x="521.75" y="734.25" width="34.05" height="93.05" fill="#3d5c00"/>
<rect x="555.5" y="734.25" width="8.8" height="93.05" fill="#2b9900"/>
<rect x="564" y="734.25" width="49.3" height="93.05" fill="#308a00"/>
<rect x="613" y="734.25" width="29.3" height="93.05" fill="#395c00"/>
<rect x="642" y="734.25" width="27.55" height="93.05" fill="#0d6b00"/>
<rect x="669.25" y="734.25" width="50.8" height="93.05" fill="#086b00"/>
<rect x="719.75" y="734.25" width="7.3" height="93.05" fill="#0b5c00"/>
<rect x="726.75" y="734.25" width="7.55" height="93.05" fill="#106600"/>
<rect x="513.75" y="734.25" width="6.7" height="93.05" fill="#064c00"/>
<rect x="405.75" y="827" width="24.05" height="77.17" fill="#0a4c00"/>
<rect x="429.5" y="827" width="14.3" height="77.17" fill="#0d7300"/>
<rect x="443.5" y="827" width="6.8" height="77.17" fill="#0d6b00"/>
<rect x="450" y="827" width="25.8" height="77.17" fill="#207a00"/>
<rect x="475.5" y="827" width="12.8" height="77.17" fill="#207a00"/>
<rect x="488" y="827" width="20.3" height="77.17" fill="#207a00"/>
<rect x="508" y="827" width="3.05" height="77.17" fill="#236600"/>
<rect x="510.75" y="827" width="11.3" height="77.17" fill="#1a6600"/>
<rect x="521.75" y="827" width="34.05" height="77.17" fill="#3d5c00"/>
<rect x="555.5" y="827" width="8.8" height="77.17" fill="#299900"/>
<rect x="564" y="827" width="49.3" height="77.17" fill="#308a00"/>
<rect x="613" y="827" width="29.3" height="77.17" fill="#395c00"/>
<rect x="642" y="827" width="27.55" height="77.17" fill="#0e8f00"/>
<rect x="669.25" y="827" width="50.8" height="77.17" fill="#086b00"/>
<rect x="719.75" y="827" width="7.3" height="77.17" fill="#0b5c00"/>
<rect x="726.75" y="827" width="7.55" height="77.17" fill="#106600"/>
<rect x="513.75" y="827" width="6.7" height="77.17" fill="#064c00"/>
<rect x="405.75" y="903.88" width="24.05" height="29.93" fill="#1a5700"/>
<rect x="429.5" y="903.88" width="14.3" height="29.93" fill="#208200"/>
<rect x="443.5" y="903.88" width="6.8" height="29.93" fill="#207900"/>
<rect x="450" y="903.88" width="25.8" height="29.93" fill="#1b6800"/>
<rect x="475.5" y="903.88" width="12.8" height="29.93" fill="#1b6800"/>
<rect x="488" y="903.88" width="20.3" height="29.93" fill="#1b6800"/>
<rect x="508" y="903.88" width="3.05" height="29.93" fill="#205700"/>
<rect x="510.75" y="903.88" width="11.3" height="29.93" fill="#1b5700"/>
<rect x="521.75" y="903.88" width="34.05" height="29.93" fill="#184e00"/>
<rect x="555.5" y="903.88" width="8.8" height="29.93" fill="#195700"/>
<rect x="564" y="903.88" width="49.3" height="29.93" fill="#1a4e00"/>
<rect x="613" y="903.88" width="29.3" height="29.93" fill="#1a4e00"/>
<rect x="642" y="903.88" width="27.55" height="29.93" fill="#403600"/>
<rect x="669.25" y="903.88" width="50.8" height="29.93" fill="#1d7900"/>
<rect x="719.75" y="903.88" width="7.3" height="29.93" fill="#1d6800"/>
<rect x="726.75" y="903.88" width="7.55" height="29.93" fill="#1d5700"/>
<rect x="562.75" y="903.88" width="1.3" height="29.93" fill="#245700"/>
<rect x="405.75" y="933.5" width="24.05" height="33.05" fill="#165c00"/>
<rect x="429.5" y="933.5" width="14.3" height="33.05" fill="#1d8a00"/>
<rect x="443.5" y="933.5" width="6.8" height="33.05" fill="#208100"/>
<rect x="450" y="933.5" width="25.8" height="33.05" fill="#1a6e00"/>
<rect x="475.5" y="933.5" width="12.8" height="33.05" fill="#1a6e00"/>
<rect x="488" y="933.5" width="20.3" height="33.05" fill="#1a6e00"/>
<rect x="508" y="933.5" width="3.05" height="33.05" fill="#1a5c00"/>
<rect x="510.75" y="933.5" width="11.3" height="33.05" fill="#1a5c00"/>
<rect x="521.75" y="933.5" width="34.05" height="33.05" fill="#155300"/>
<rect x="555.5" y="933.5" width="8.8" height="33.05" fill="#155c00"/>
<rect x="564" y="933.5" width="49.3" height="33.05" fill="#155300"/>
<rect x="613" y="933.5" width="29.3" height="33.05" fill="#155300"/>
<rect x="642" y="933.5" width="27.55" height="33.05" fill="#29d600"/>
<rect x="669.25" y="933.5" width="50.8" height="33.05" fill="#3b8f00"/>
<rect x="719.75" y="933.5" width="7.3" height="33.05" fill="#206e00"/>
<rect x="726.75" y="933.5" width="7.55" height="33.05" fill="#1a5c00"/>
<rect x="511.75" y="933.5" width="8.5" height="33.05" fill="#3e2600"/>
<rect x="562.75" y="933.5" width="1.3" height="33.05" fill="#245c00"/>
<rect x="405.75" y="966.25" width="24.05" height="77.8" fill="#165c00"/>
<rect x="429.5" y="966.25" width="14.3" height="77.8" fill="#1d8a00"/>
<rect x="443.5" y="966.25" width="6.8" height="77.8" fill="#1d8100"/>
<rect x="450" y="966.25" width="25.8" height="77.8" fill="#186e00"/>
<rect x="475.5" y="966.25" width="12.8" height="77.8" fill="#186e00"/>
<rect x="488" y="966.25" width="20.3" height="77.8" fill="#186e00"/>
<rect x="508" y="966.25" width="3.05" height="77.8" fill="#1a5c00"/>
<rect x="510.75" y="966.25" width="11.3" height="77.8" fill="#1a5c00"/>
<rect x="521.75" y="966.25" width="34.05" height="77.8" fill="#155300"/>
<rect x="555.5" y="966.25" width="8.8" height="77.8" fill="#155c00"/>
<rect x="564" y="966.25" width="49.3" height="77.8" fill="#155300"/>
<rect x="613" y="966.25" width="29.3" height="77.8" fill="#155300"/>
<rect x="642" y="966.25" width="27.55" height="77.8" fill="#1b8100"/>
<rect x="669.25" y="966.25" width="50.8" height="77.8" fill="#3e3600"/>
<rect x="719.75" y="966.25" width="7.3" height="77.8" fill="#206e00"/>
<rect x="726.75" y="966.25" width="7.55" height="77.8" fill="#1a5c00"/>
<rect x="511.75" y="966.25" width="8.5" height="77.8" fill="#3e2600"/>
<rect x="562.75" y="966.25" width="1.3" height="77.8" fill="#245c00"/>
<rect x="642" y="966.25" width="2.25" height="77.8" fill="#396600"/>
</g>
<g fill="#fff" shape-rendering="crispEdges">
<rect x="404.75" y="147" width="330.25" height="5.5" fill="#fff"/>
<rect x="404.75" y="223" width="330.25" height="5.5" fill="#fff"/>
<rect x="404.75" y="281.75" width="330.25" height="5.25" fill="#fff"/>
<rect x="404.75" y="327.5" width="330.25" height="5.5" fill="#fff"/>
<rect x="404.75" y="367" width="330.25" height="5.5" fill="#fff"/>
<rect x="404.75" y="415" width="330.25" height="5" fill="#fff"/>
<rect x="404.75" y="431" width="330.25" height="5.25" fill="#fff"/>
<rect x="404.75" y="470.75" width="330.25" height="5" fill="#fff"/>
<rect x="404.75" y="505" width="330.25" height="5.25" fill="#fff"/>
<rect x="404.75" y="523.5" width="330.25" height="4.75" fill="#fff"/>
<rect x="404.75" y="544.75" width="330.25" height="5.25" fill="#fff"/>
<rect x="404.75" y="592.75" width="330.25" height="5.5" fill="#fff"/>
<rect x="404.75" y="612.75" width="330.25" height="5.75" fill="#fff"/>
<rect x="404.75" y="687.25" width="330.25" height="5.25" fill="#fff"/>
<rect x="404.75" y="731.5" width="330.25" height="5.5" fill="#fff"/>
<rect x="404.75" y="824" width="330.25" height="6" fill="#fff"/>
<rect x="404.75" y="901.25" width="330.25" height="5.25" fill="#fff"/>
<rect x="404.75" y="930.75" width="330.25" height="5.5" fill="#fff"/>
<rect x="404.75" y="963.75" width="330.25" height="5" fill="#fff"/>
<rect x="403.75" y="105" width="332.25" height="5" fill="#fff"/>
<rect x="403.75" y="1040.75" width="332.25" height="5" fill="#fff"/>
<rect x="403.75" y="105" width="5" height="940.75" fill="#fff"/>
<rect x="731" y="105" width="5" height="940.75" fill="#fff"/>
</g>
<linearGradient id="cba" x1="0" y1="0" x2="1" y2="0"><stop offset="0" stop-color="#3c6cb4"/><stop offset="0.13" stop-color="#4a94f0"/><stop offset="0.27" stop-color="#58baf8"/><stop offset="0.38" stop-color="#84d0ee"/><stop offset="0.47" stop-color="#b0d8de"/><stop offset="0.56" stop-color="#d4d2b4"/><stop offset="0.65" stop-color="#e6c468"/><stop offset="0.72" stop-color="#e8ac30"/><stop offset="0.79" stop-color="#e8662e"/><stop offset="0.86" stop-color="#e43028"/><stop offset="0.93" stop-color="#c42424"/><stop offset="1" stop-color="#a42020"/></linearGradient>
<rect x="69.5" y="1093.4" width="324.7" height="27.2" fill="url(#cba)" rx="1.5"/>
<line x1="78.2" y1="1114.1" x2="78.2" y2="1120.6" stroke="#1a1a1a" stroke-width="2"/>
<line x1="382.4" y1="1114.1" x2="382.4" y2="1120.6" stroke="#1a1a1a" stroke-width="2"/>
<linearGradient id="cbr" x1="0" y1="0" x2="1" y2="0"><stop offset="0" stop-color="#2e2c9c"/><stop offset="0.12" stop-color="#3238c0"/><stop offset="0.26" stop-color="#3a5ee8"/><stop offset="0.4" stop-color="#4690d8"/><stop offset="0.5" stop-color="#56c4a0"/><stop offset="0.6" stop-color="#a2c070"/><stop offset="0.72" stop-color="#e6b242"/><stop offset="0.85" stop-color="#f0e030"/><stop offset="1" stop-color="#f2f830"/></linearGradient>
<rect x="407.5" y="1092.75" width="324.5" height="28.5" fill="url(#cbr)" rx="1.5"/>
<line x1="416.75" y1="1114.75" x2="416.75" y2="1121.25" stroke="#1a1a1a" stroke-width="2"/>
<line x1="720" y1="1114.75" x2="720" y2="1121.25" stroke="#1a1a1a" stroke-width="2"/>
<text x="241" y="1078.5" font-size="29.5" text-anchor="middle">ATAC Z−Scores</text>
<text x="572.9" y="1080" font-size="30.1" text-anchor="middle">RNA Z−Scores</text>
<text x="72.5" y="1152.4" font-size="29.8" text-anchor="start">−1.5</text>
<text x="395.8" y="1152.4" font-size="29.8" text-anchor="end">1.5</text>
<text x="406.5" y="1153.25" font-size="29.8" text-anchor="start">−1.5</text>
<text x="737.8" y="1153.25" font-size="29.8" text-anchor="end">1.5</text>
<text x="0" y="49" font-size="67.5" text-anchor="start">a</text>
<text x="814.3" y="48.75" font-size="67.5" text-anchor="start">b</text>
<text x="1546.3" y="48.75" font-size="67.5" text-anchor="start">c</text>
<text x="814.6" y="640.5" font-size="67.5" text-anchor="start">d</text>
<text x="1544.5" y="641.25" font-size="67.5" text-anchor="start">e</text>
<text x="8.6" y="1283.75" font-size="67.5" text-anchor="start">f</text>
<text x="776.5" y="1285.5" font-size="67.5" text-anchor="start">g</text>
<text x="1514.5" y="1285.3" font-size="67.5" text-anchor="start">h</text>
<line x1="925.65" y1="546.25" x2="931.25" y2="546.25" stroke="#000" stroke-width="2.6"/>
<text x="920.3" y="556.65" font-size="29.6" text-anchor="end">0</text>
<line x1="925.65" y1="420.62" x2="931.25" y2="420.62" stroke="#000" stroke-width="2.6"/>
<text x="920.3" y="431.02" font-size="29.6" text-anchor="end">50</text>
<line x1="925.65" y1="295" x2="931.25" y2="295" stroke="#000" stroke-width="2.6"/>
<text x="920.3" y="305.4" font-size="29.6" text-anchor="end">100</text>
<line x1="925.65" y1="169.38" x2="931.25" y2="169.38" stroke="#000" stroke-width="2.6"/>
<text x="920.3" y="179.78" font-size="29.6" text-anchor="end">150</text>
<text x="850" y="319.5" font-size="37.6" text-anchor="middle" transform="rotate(-90 850 319.5)">Number of peaks (1K)</text>
<rect x="954.75" y="185.5" width="28" height="36.25" fill="#f6e5e5" stroke="#000" stroke-width="2"/>
<rect x="954.75" y="221.75" width="28" height="45" fill="#dc9e9e" stroke="#000" stroke-width="2"/>
<rect x="954.75" y="266.75" width="28" height="98.25" fill="#c65f5f" stroke="#000" stroke-width="2"/>
<rect x="954.75" y="365" width="28" height="181.25" fill="#b22727" stroke="#000" stroke-width="2"/>
<text x="966.75" y="177.5" font-size="22.6" text-anchor="middle">EXN</text>
<rect x="1026.83" y="302.5" width="28" height="27" fill="#e9f3ec" stroke="#000" stroke-width="2"/>
<rect x="1026.83" y="329.5" width="28" height="38" fill="#abd2b7" stroke="#000" stroke-width="2"/>
<rect x="1026.83" y="367.5" width="28" height="52.5" fill="#75b488" stroke="#000" stroke-width="2"/>
<rect x="1026.83" y="420" width="28" height="126.25" fill="#459a5e" stroke="#000" stroke-width="2"/>
<text x="1038.83" y="284.25" font-size="22.6" text-anchor="middle">IN</text>
<rect x="1098.91" y="256.25" width="28" height="31.75" fill="#eaeaf5" stroke="#000" stroke-width="2"/>
<rect x="1098.91" y="288" width="28" height="42.75" fill="#b2b2d8" stroke="#000" stroke-width="2"/>
<rect x="1098.91" y="330.75" width="28" height="65" fill="#8080bf" stroke="#000" stroke-width="2"/>
<rect x="1098.91" y="395.75" width="28" height="150.5" fill="#5353a8" stroke="#000" stroke-width="2"/>
<text x="1110.91" y="241.25" font-size="22.6" text-anchor="middle">OLG</text>
<rect x="1170.99" y="284.5" width="28" height="29.25" fill="#f5f8fc" stroke="#000" stroke-width="2"/>
<rect x="1170.99" y="313.75" width="28" height="42.5" fill="#d8e5f5" stroke="#000" stroke-width="2"/>
<rect x="1170.99" y="356.25" width="28" height="61.25" fill="#bfd5ee" stroke="#000" stroke-width="2"/>
<rect x="1170.99" y="417.5" width="28" height="128.75" fill="#a9c6e8" stroke="#000" stroke-width="2"/>
<text x="1182.99" y="267.5" font-size="22.6" text-anchor="middle">OPC</text>
<rect x="1243.07" y="302.5" width="28" height="24.5" fill="#f6eff8" stroke="#000" stroke-width="2"/>
<rect x="1243.07" y="327" width="28" height="41" fill="#dfc4e4" stroke="#000" stroke-width="2"/>
<rect x="1243.07" y="368" width="28" height="63.75" fill="#ca9dd3" stroke="#000" stroke-width="2"/>
<rect x="1243.07" y="431.75" width="28" height="114.5" fill="#b87bc4" stroke="#000" stroke-width="2"/>
<text x="1255.07" y="283.75" font-size="22.6" text-anchor="middle">END</text>
<rect x="1315.15" y="255" width="28" height="30.75" fill="#fdfded" stroke="#000" stroke-width="2"/>
<rect x="1315.15" y="285.75" width="28" height="44.25" fill="#f8f9bc" stroke="#000" stroke-width="2"/>
<rect x="1315.15" y="330" width="28" height="71.25" fill="#f4f591" stroke="#000" stroke-width="2"/>
<rect x="1315.15" y="401.25" width="28" height="145" fill="#f0f26a" stroke="#000" stroke-width="2"/>
<text x="1327.15" y="240.75" font-size="22.6" text-anchor="middle">AST</text>
<rect x="1387.23" y="292" width="28" height="28.5" fill="#f0f0f0" stroke="#000" stroke-width="2"/>
<rect x="1387.23" y="320.5" width="28" height="41.5" fill="#c6c6c6" stroke="#000" stroke-width="2"/>
<rect x="1387.23" y="362" width="28" height="56.75" fill="#a1a1a1" stroke="#000" stroke-width="2"/>
<rect x="1387.23" y="418.75" width="28" height="127.5" fill="#808080" stroke="#000" stroke-width="2"/>
<text x="1399.23" y="273.75" font-size="22.6" text-anchor="middle">MG</text>
<rect x="931.25" y="93.75" width="508" height="452.5" fill="none" stroke="#000" stroke-width="2.8"/>
<rect x="1323.3" y="109" width="31.5" height="10.6" fill="#f0e6e8" stroke="#000" stroke-width="1.6"/>
<text x="1367.5" y="119.25" font-size="21.9" text-anchor="start">Exon</text>
<rect x="1323.3" y="128.2" width="31.5" height="10.6" fill="#dcaab0" stroke="#000" stroke-width="1.6"/>
<text x="1367.5" y="138.4" font-size="21.9" text-anchor="start">Prom</text>
<rect x="1323.3" y="147.4" width="31.5" height="10.6" fill="#c8737a" stroke="#000" stroke-width="1.6"/>
<text x="1367.5" y="157.6" font-size="21.9" text-anchor="start">Dist</text>
<rect x="1323.3" y="166.5" width="31.5" height="10.6" fill="#b5424e" stroke="#000" stroke-width="1.6"/>
<text x="1367.5" y="176.75" font-size="21.9" text-anchor="start">Intron</text>
<line x1="1640.7" y1="545.75" x2="1646.3" y2="545.75" stroke="#000" stroke-width="2.6"/>
<text x="1636.8" y="556.15" font-size="29.6" text-anchor="end">0</text>
<line x1="1640.7" y1="319.95" x2="1646.3" y2="319.95" stroke="#000" stroke-width="2.6"/>
<text x="1636.8" y="330.35" font-size="29.6" text-anchor="end">100</text>
<line x1="1640.7" y1="94.15" x2="1646.3" y2="94.15" stroke="#000" stroke-width="2.6"/>
<text x="1636.8" y="104.55" font-size="29.6" text-anchor="end">200</text>
<text x="1572.5" y="319.5" font-size="37.6" text-anchor="middle" transform="rotate(-90 1572.5 319.5)">Number of peaks (1K)</text>
<rect x="1670.5" y="207" width="13" height="33.75" fill="#f6e8ea" stroke="#000" stroke-width="2"/>
<rect x="1670.5" y="240.75" width="13" height="38.5" fill="#deaaaf" stroke="#000" stroke-width="2"/>
<rect x="1670.5" y="279.25" width="13" height="95.75" fill="#c8737c" stroke="#000" stroke-width="2"/>
<rect x="1670.5" y="375" width="13" height="170.75" fill="#b5424e" stroke="#000" stroke-width="2"/>
<text x="1683.1" y="196.25" font-size="22" text-anchor="start" transform="rotate(-90 1683.1 196.25)">CUX2</text>
<rect x="1705.32" y="207" width="13" height="35" fill="#fcf2f3" stroke="#000" stroke-width="2"/>
<rect x="1705.32" y="242" width="13" height="40.5" fill="#f2ced3" stroke="#000" stroke-width="2"/>
<rect x="1705.32" y="282.5" width="13" height="91.75" fill="#eaaeb7" stroke="#000" stroke-width="2"/>
<rect x="1705.32" y="374.25" width="13" height="171.5" fill="#e3919e" stroke="#000" stroke-width="2"/>
<text x="1717.92" y="196.25" font-size="22" text-anchor="start" transform="rotate(-90 1717.92 196.25)">RORB</text>
<rect x="1740.14" y="241.25" width="13" height="33" fill="#f1e7e8" stroke="#000" stroke-width="2"/>
<rect x="1740.14" y="274.25" width="13" height="38.75" fill="#caa6a9" stroke="#000" stroke-width="2"/>
<rect x="1740.14" y="313" width="13" height="81.25" fill="#a86d71" stroke="#000" stroke-width="2"/>
<rect x="1740.14" y="394.25" width="13" height="151.5" fill="#8a3a3f" stroke="#000" stroke-width="2"/>
<text x="1752.74" y="227" font-size="22" text-anchor="start" transform="rotate(-90 1752.74 227)">FEZF2</text>
<rect x="1774.96" y="207" width="13" height="34.75" fill="#faebed" stroke="#000" stroke-width="2"/>
<rect x="1774.96" y="241.75" width="13" height="40" fill="#edb3bd" stroke="#000" stroke-width="2"/>
<rect x="1774.96" y="281.75" width="13" height="92.75" fill="#e28292" stroke="#000" stroke-width="2"/>
<rect x="1774.96" y="374.5" width="13" height="171.25" fill="#d8566c" stroke="#000" stroke-width="2"/>
<text x="1787.56" y="196.25" font-size="22" text-anchor="start" transform="rotate(-90 1787.56 196.25)">OPRK1</text>
<rect x="1809.78" y="343.25" width="13" height="23.5" fill="#edf1e7" stroke="#000" stroke-width="2"/>
<rect x="1809.78" y="366.75" width="13" height="33.25" fill="#bbcba6" stroke="#000" stroke-width="2"/>
<rect x="1809.78" y="400" width="13" height="47.5" fill="#8fa96d" stroke="#000" stroke-width="2"/>
<rect x="1809.78" y="447.5" width="13" height="98.25" fill="#688b3a" stroke="#000" stroke-width="2"/>
<text x="1822.38" y="335.5" font-size="22" text-anchor="start" transform="rotate(-90 1822.38 335.5)">LAMP5</text>
<rect x="1844.6" y="413" width="13" height="17" fill="#f4fcea" stroke="#000" stroke-width="2"/>
<rect x="1844.6" y="430" width="13" height="27" fill="#d6f4b0" stroke="#000" stroke-width="2"/>
<rect x="1844.6" y="457" width="13" height="29.3" fill="#bcec7d" stroke="#000" stroke-width="2"/>
<rect x="1844.6" y="486.3" width="13" height="59.45" fill="#a5e64f" stroke="#000" stroke-width="2"/>
<text x="1857.2" y="400" font-size="22" text-anchor="start" transform="rotate(-90 1857.2 400)">KCNG1</text>
<rect x="1879.42" y="249.25" width="13" height="31.25" fill="#f9fbf4" stroke="#000" stroke-width="2"/>
<rect x="1879.42" y="280.5" width="13" height="40.25" fill="#e8f1d4" stroke="#000" stroke-width="2"/>
<rect x="1879.42" y="320.75" width="13" height="72.45" fill="#d9e8b9" stroke="#000" stroke-width="2"/>
<rect x="1879.42" y="393.2" width="13" height="152.55" fill="#cce0a0" stroke="#000" stroke-width="2"/>
<text x="1892.02" y="238.75" font-size="22" text-anchor="start" transform="rotate(-90 1892.02 238.75)">VIP</text>
<rect x="1914.24" y="263.75" width="13" height="30" fill="#f1f5ea" stroke="#000" stroke-width="2"/>
<rect x="1914.24" y="293.75" width="13" height="39.55" fill="#cad9b0" stroke="#000" stroke-width="2"/>
<rect x="1914.24" y="333.3" width="13" height="65.5" fill="#a8c17d" stroke="#000" stroke-width="2"/>
<rect x="1914.24" y="398.8" width="13" height="146.95" fill="#8aab4f" stroke="#000" stroke-width="2"/>
<text x="1926.84" y="255" font-size="22" text-anchor="start" transform="rotate(-90 1926.84 255)">SST</text>
<rect x="1949.06" y="277.5" width="13" height="29.6" fill="#f6fbed" stroke="#000" stroke-width="2"/>
<rect x="1949.06" y="307.1" width="13" height="39.2" fill="#dcefbd" stroke="#000" stroke-width="2"/>
<rect x="1949.06" y="346.3" width="13" height="60.4" fill="#c5e592" stroke="#000" stroke-width="2"/>
<rect x="1949.06" y="406.7" width="13" height="139.05" fill="#b1dc6c" stroke="#000" stroke-width="2"/>
<text x="1961.66" y="265.4" font-size="22" text-anchor="start" transform="rotate(-90 1961.66 265.4)">PVALB</text>
<rect x="1983.88" y="347.5" width="13" height="22.5" fill="#eaeaf5" stroke="#000" stroke-width="2"/>
<rect x="1983.88" y="370" width="13" height="32.3" fill="#b2b2d8" stroke="#000" stroke-width="2"/>
<rect x="1983.88" y="402.3" width="13" height="42.6" fill="#8080bf" stroke="#000" stroke-width="2"/>
<rect x="1983.88" y="444.9" width="13" height="100.85" fill="#5353a8" stroke="#000" stroke-width="2"/>
<text x="1996.48" y="334.8" font-size="22" text-anchor="start" transform="rotate(-90 1996.48 334.8)">OLG</text>
<rect x="2018.7" y="328.3" width="13" height="24.6" fill="#f5f8fc" stroke="#000" stroke-width="2"/>
<rect x="2018.7" y="352.9" width="13" height="37.1" fill="#d8e5f5" stroke="#000" stroke-width="2"/>
<rect x="2018.7" y="390" width="13" height="49.9" fill="#bfd5ee" stroke="#000" stroke-width="2"/>
<rect x="2018.7" y="439.9" width="13" height="105.85" fill="#a9c6e8" stroke="#000" stroke-width="2"/>
<text x="2031.3" y="319" font-size="22" text-anchor="start" transform="rotate(-90 2031.3 319)">OPC</text>
<rect x="2053.52" y="268.3" width="13" height="28.7" fill="#f6eff8" stroke="#000" stroke-width="2"/>
<rect x="2053.52" y="297" width="13" height="41.7" fill="#dfc4e4" stroke="#000" stroke-width="2"/>
<rect x="2053.52" y="338.7" width="13" height="68.2" fill="#ca9dd3" stroke="#000" stroke-width="2"/>
<rect x="2053.52" y="406.9" width="13" height="138.85" fill="#b87bc4" stroke="#000" stroke-width="2"/>
<text x="2066.12" y="255.2" font-size="22" text-anchor="start" transform="rotate(-90 2066.12 255.2)">END</text>
<rect x="2088.34" y="316.6" width="13" height="26.4" fill="#fdfded" stroke="#000" stroke-width="2"/>
<rect x="2088.34" y="343" width="13" height="36.7" fill="#f8f9bc" stroke="#000" stroke-width="2"/>
<rect x="2088.34" y="379.7" width="13" height="51.3" fill="#f4f591" stroke="#000" stroke-width="2"/>
<rect x="2088.34" y="431" width="13" height="114.75" fill="#f0f26a" stroke="#000" stroke-width="2"/>
<text x="2100.94" y="304" font-size="22" text-anchor="start" transform="rotate(-90 2100.94 304)">AST</text>
<rect x="2123.16" y="325.8" width="13" height="22.8" fill="#f0f0f0" stroke="#000" stroke-width="2"/>
<rect x="2123.16" y="348.6" width="13" height="36.8" fill="#c6c6c6" stroke="#000" stroke-width="2"/>
<rect x="2123.16" y="385.4" width="13" height="57.8" fill="#a1a1a1" stroke="#000" stroke-width="2"/>
<rect x="2123.16" y="443.2" width="13" height="102.55" fill="#808080" stroke="#000" stroke-width="2"/>
<text x="2135.76" y="310.6" font-size="22" text-anchor="start" transform="rotate(-90 2135.76 310.6)">MG</text>
<rect x="1646.3" y="94.1" width="513.9" height="451.65" fill="none" stroke="#000" stroke-width="2.8"/>
<rect x="2044.2" y="105.5" width="31" height="10" fill="#f0e6e8" stroke="#000" stroke-width="1.6"/>
<text x="2088" y="115.6" font-size="21.9" text-anchor="start">Exon</text>
<rect x="2044.2" y="124.5" width="31" height="10" fill="#dcaab0" stroke="#000" stroke-width="1.6"/>
<text x="2088" y="134.5" font-size="21.9" text-anchor="start">Prom</text>
<rect x="2044.2" y="143.5" width="31" height="10" fill="#c8737a" stroke="#000" stroke-width="1.6"/>
<text x="2088" y="153.6" font-size="21.9" text-anchor="start">Dist</text>
<rect x="2044.2" y="162.6" width="31" height="10" fill="#b5424e" stroke="#000" stroke-width="1.6"/>
<text x="2088" y="172.6" font-size="21.9" text-anchor="start">Intron</text>
<polyline points="954.5,663.32 1071.32,708.61 1188.14,792.03 1304.96,923.58 1421.78,1057.42" fill="none" stroke="#b22727" stroke-width="2.9" stroke-linejoin="round"/>
<circle cx="954.5" cy="663.32" r="5.1" fill="#b22727"/>
<circle cx="1071.32" cy="708.61" r="5.1" fill="#b22727"/>
<circle cx="1188.14" cy="792.03" r="5.1" fill="#b22727"/>
<circle cx="1304.96" cy="923.58" r="5.1" fill="#b22727"/>
<circle cx="1421.78" cy="1057.42" r="5.1" fill="#b22727"/>
<polyline points="954.5,661.96 1071.32,708.61 1188.14,794.46 1304.96,918.17 1421.78,1037.14" fill="none" stroke="#459a5e" stroke-width="2.9" stroke-linejoin="round"/>
<circle cx="954.5" cy="661.96" r="5.1" fill="#459a5e"/>
<circle cx="1071.32" cy="708.61" r="5.1" fill="#459a5e"/>
<circle cx="1188.14" cy="794.46" r="5.1" fill="#459a5e"/>
<circle cx="1304.96" cy="918.17" r="5.1" fill="#459a5e"/>
<circle cx="1421.78" cy="1037.14" r="5.1" fill="#459a5e"/>
<polyline points="954.5,676.16 1071.32,737 1188.14,823.73 1304.96,933.72 1421.78,1037.14" fill="none" stroke="#4a4fb0" stroke-width="2.9" stroke-linejoin="round"/>
<circle cx="954.5" cy="676.16" r="5.1" fill="#4a4fb0"/>
<circle cx="1071.32" cy="737" r="5.1" fill="#4a4fb0"/>
<circle cx="1188.14" cy="823.73" r="5.1" fill="#4a4fb0"/>
<circle cx="1304.96" cy="933.72" r="5.1" fill="#4a4fb0"/>
<circle cx="1421.78" cy="1037.14" r="5.1" fill="#4a4fb0"/>
<polyline points="954.5,667.37 1071.32,715.03 1188.14,798.79 1304.96,909.38 1421.78,1021.26" fill="none" stroke="#a9c6e8" stroke-width="2.9" stroke-linejoin="round"/>
<circle cx="954.5" cy="667.37" r="5.1" fill="#a9c6e8"/>
<circle cx="1071.32" cy="715.03" r="5.1" fill="#a9c6e8"/>
<circle cx="1188.14" cy="798.79" r="5.1" fill="#a9c6e8"/>
<circle cx="1304.96" cy="909.38" r="5.1" fill="#a9c6e8"/>
<circle cx="1421.78" cy="1021.26" r="5.1" fill="#a9c6e8"/>
<polyline points="954.5,671.43 1071.32,728.89 1188.14,830.02 1304.96,955.35 1421.78,1064.18" fill="none" stroke="#b87bc4" stroke-width="2.9" stroke-linejoin="round"/>
<circle cx="954.5" cy="671.43" r="5.1" fill="#b87bc4"/>
<circle cx="1071.32" cy="728.89" r="5.1" fill="#b87bc4"/>
<circle cx="1188.14" cy="830.02" r="5.1" fill="#b87bc4"/>
<circle cx="1304.96" cy="955.35" r="5.1" fill="#b87bc4"/>
<circle cx="1421.78" cy="1064.18" r="5.1" fill="#b87bc4"/>
<polyline points="954.5,665.01 1071.32,707.53 1188.14,780.26 1304.96,885.04 1421.78,1001.99" fill="none" stroke="#f0f26a" stroke-width="2.9" stroke-linejoin="round"/>
<circle cx="954.5" cy="665.01" r="5.1" fill="#f0f26a"/>
<circle cx="1071.32" cy="707.53" r="5.1" fill="#f0f26a"/>
<circle cx="1188.14" cy="780.26" r="5.1" fill="#f0f26a"/>
<circle cx="1304.96" cy="885.04" r="5.1" fill="#f0f26a"/>
<circle cx="1421.78" cy="1001.99" r="5.1" fill="#f0f26a"/>
<polyline points="954.5,680.22 1071.32,747.82 1188.14,845.5 1304.96,968.19 1421.78,1072.97" fill="none" stroke="#808080" stroke-width="2.9" stroke-linejoin="round"/>
<circle cx="954.5" cy="680.22" r="5.1" fill="#808080"/>
<circle cx="1071.32" cy="747.82" r="5.1" fill="#808080"/>
<circle cx="1188.14" cy="845.5" r="5.1" fill="#808080"/>
<circle cx="1304.96" cy="968.19" r="5.1" fill="#808080"/>
<circle cx="1421.78" cy="1072.97" r="5.1" fill="#808080"/>
<line x1="952.5" y1="863" x2="1002" y2="863" stroke="#b22727" stroke-width="2.61"/>
<circle cx="977.25" cy="863" r="4.84" fill="#b22727"/>
<text x="1012.5" y="870.81" font-size="22.7" text-anchor="start">EXN</text>
<line x1="952.5" y1="897" x2="1002" y2="897" stroke="#459a5e" stroke-width="2.61"/>
<circle cx="977.25" cy="897" r="4.84" fill="#459a5e"/>
<text x="1012.5" y="904.81" font-size="22.7" text-anchor="start">IN</text>
<line x1="952.5" y1="931" x2="1002" y2="931" stroke="#4a4fb0" stroke-width="2.61"/>
<circle cx="977.25" cy="931" r="4.84" fill="#4a4fb0"/>
<text x="1012.5" y="938.81" font-size="22.7" text-anchor="start">OLG</text>
<line x1="952.5" y1="965" x2="1002" y2="965" stroke="#a9c6e8" stroke-width="2.61"/>
<circle cx="977.25" cy="965" r="4.84" fill="#a9c6e8"/>
<text x="1012.5" y="972.81" font-size="22.7" text-anchor="start">OPC</text>
<line x1="952.5" y1="999" x2="1002" y2="999" stroke="#b87bc4" stroke-width="2.61"/>
<circle cx="977.25" cy="999" r="4.84" fill="#b87bc4"/>
<text x="1012.5" y="1006.81" font-size="22.7" text-anchor="start">END</text>
<line x1="952.5" y1="1033" x2="1002" y2="1033" stroke="#f0f26a" stroke-width="2.61"/>
<circle cx="977.25" cy="1033" r="4.84" fill="#f0f26a"/>
<text x="1012.5" y="1040.81" font-size="22.7" text-anchor="start">AST</text>
<line x1="952.5" y1="1067" x2="1002" y2="1067" stroke="#808080" stroke-width="2.61"/>
<circle cx="977.25" cy="1067" r="4.84" fill="#808080"/>
<text x="1012.5" y="1074.81" font-size="22.7" text-anchor="start">MG</text>
<rect x="931.25" y="642.3" width="513.75" height="451.7" fill="none" stroke="#000" stroke-width="2.8"/>
<line x1="925.65" y1="1058.1" x2="931.25" y2="1058.1" stroke="#000" stroke-width="2.6"/>
<text x="919.8" y="1068.5" font-size="29.6" text-anchor="end">0.4</text>
<line x1="925.65" y1="990.5" x2="931.25" y2="990.5" stroke="#000" stroke-width="2.6"/>
<text x="919.8" y="1000.9" font-size="29.6" text-anchor="end">0.5</text>
<line x1="925.65" y1="922.9" x2="931.25" y2="922.9" stroke="#000" stroke-width="2.6"/>
<text x="919.8" y="933.3" font-size="29.6" text-anchor="end">0.6</text>
<line x1="925.65" y1="855.3" x2="931.25" y2="855.3" stroke="#000" stroke-width="2.6"/>
<text x="919.8" y="865.7" font-size="29.6" text-anchor="end">0.7</text>
<line x1="925.65" y1="787.7" x2="931.25" y2="787.7" stroke="#000" stroke-width="2.6"/>
<text x="919.8" y="798.1" font-size="29.6" text-anchor="end">0.8</text>
<line x1="925.65" y1="720.1" x2="931.25" y2="720.1" stroke="#000" stroke-width="2.6"/>
<text x="919.8" y="730.5" font-size="29.6" text-anchor="end">0.9</text>
<line x1="925.65" y1="652.5" x2="931.25" y2="652.5" stroke="#000" stroke-width="2.6"/>
<text x="919.8" y="662.9" font-size="29.6" text-anchor="end">1.0</text>
<line x1="954.5" y1="1094" x2="954.5" y2="1099.6" stroke="#000" stroke-width="2.6"/>
<text x="954.5" y="1127.3" font-size="29.6" text-anchor="middle">0.2</text>
<line x1="1071.32" y1="1094" x2="1071.32" y2="1099.6" stroke="#000" stroke-width="2.6"/>
<text x="1071.32" y="1127.3" font-size="29.6" text-anchor="middle">0.4</text>
<line x1="1188.14" y1="1094" x2="1188.14" y2="1099.6" stroke="#000" stroke-width="2.6"/>
<text x="1188.14" y="1127.3" font-size="29.6" text-anchor="middle">0.6</text>
<line x1="1304.96" y1="1094" x2="1304.96" y2="1099.6" stroke="#000" stroke-width="2.6"/>
<text x="1304.96" y="1127.3" font-size="29.6" text-anchor="middle">0.8</text>
<line x1="1421.78" y1="1094" x2="1421.78" y2="1099.6" stroke="#000" stroke-width="2.6"/>
<text x="1421.78" y="1127.3" font-size="29.6" text-anchor="middle">1.0</text>
<text x="850" y="867.5" font-size="37.6" text-anchor="middle" transform="rotate(-90 850 867.5)">Overlap %</text>
<text x="1188" y="1178" font-size="37.6" text-anchor="middle">Minimum overlap threshold</text>
<polyline points="1669.5,664.65 1786.22,707.27 1902.94,792.52 2019.66,929.05 2136.38,1054.26" fill="none" stroke="#b5424e" stroke-width="2.9" stroke-linejoin="round"/>
<circle cx="1669.5" cy="664.65" r="5.1" fill="#b5424e"/>
<circle cx="1786.22" cy="707.27" r="5.1" fill="#b5424e"/>
<circle cx="1902.94" cy="792.52" r="5.1" fill="#b5424e"/>
<circle cx="2019.66" cy="929.05" r="5.1" fill="#b5424e"/>
<circle cx="2136.38" cy="1054.26" r="5.1" fill="#b5424e"/>
<polyline points="1669.5,665.32 1786.22,709.94 1902.94,791.19 2019.66,922.39 2136.38,1055.59" fill="none" stroke="#e3919e" stroke-width="2.9" stroke-linejoin="round"/>
<circle cx="1669.5" cy="665.32" r="5.1" fill="#e3919e"/>
<circle cx="1786.22" cy="709.94" r="5.1" fill="#e3919e"/>
<circle cx="1902.94" cy="791.19" r="5.1" fill="#e3919e"/>
<circle cx="2019.66" cy="922.39" r="5.1" fill="#e3919e"/>
<circle cx="2136.38" cy="1055.59" r="5.1" fill="#e3919e"/>
<polyline points="1669.5,666.65 1786.22,714.6 1902.94,803.84 2019.66,927.72 2136.38,1048.93" fill="none" stroke="#8a3a3f" stroke-width="2.9" stroke-linejoin="round"/>
<circle cx="1669.5" cy="666.65" r="5.1" fill="#8a3a3f"/>
<circle cx="1786.22" cy="714.6" r="5.1" fill="#8a3a3f"/>
<circle cx="1902.94" cy="803.84" r="5.1" fill="#8a3a3f"/>
<circle cx="2019.66" cy="927.72" r="5.1" fill="#8a3a3f"/>
<circle cx="2136.38" cy="1048.93" r="5.1" fill="#8a3a3f"/>
<polyline points="1669.5,665.98 1786.22,712.6 1902.94,802.51 2019.66,930.72 2136.38,1053.59" fill="none" stroke="#d8566c" stroke-width="2.9" stroke-linejoin="round"/>
<circle cx="1669.5" cy="665.98" r="5.1" fill="#d8566c"/>
<circle cx="1786.22" cy="712.6" r="5.1" fill="#d8566c"/>
<circle cx="1902.94" cy="802.51" r="5.1" fill="#d8566c"/>
<circle cx="2019.66" cy="930.72" r="5.1" fill="#d8566c"/>
<circle cx="2136.38" cy="1053.59" r="5.1" fill="#d8566c"/>
<polyline points="1669.5,667.31 1786.22,717.26 1902.94,806.18 2019.66,916.4 2136.38,1019.63" fill="none" stroke="#688b3a" stroke-width="2.9" stroke-linejoin="round"/>
<circle cx="1669.5" cy="667.31" r="5.1" fill="#688b3a"/>
<circle cx="1786.22" cy="717.26" r="5.1" fill="#688b3a"/>
<circle cx="1902.94" cy="806.18" r="5.1" fill="#688b3a"/>
<circle cx="2019.66" cy="916.4" r="5.1" fill="#688b3a"/>
<circle cx="2136.38" cy="1019.63" r="5.1" fill="#688b3a"/>
<polyline points="1669.5,658.66 1786.22,700.61 1902.94,772.54 2019.66,862.12 2136.38,957.69" fill="none" stroke="#a5e64f" stroke-width="2.9" stroke-linejoin="round"/>
<circle cx="1669.5" cy="658.66" r="5.1" fill="#a5e64f"/>
<circle cx="1786.22" cy="700.61" r="5.1" fill="#a5e64f"/>
<circle cx="1902.94" cy="772.54" r="5.1" fill="#a5e64f"/>
<circle cx="2019.66" cy="862.12" r="5.1" fill="#a5e64f"/>
<circle cx="2136.38" cy="957.69" r="5.1" fill="#a5e64f"/>
<polyline points="1669.5,670.64 1786.22,734.58 1902.94,840.47 2019.66,959.02 2136.38,1063.58" fill="none" stroke="#cce0a0" stroke-width="2.9" stroke-linejoin="round"/>
<circle cx="1669.5" cy="670.64" r="5.1" fill="#cce0a0"/>
<circle cx="1786.22" cy="734.58" r="5.1" fill="#cce0a0"/>
<circle cx="1902.94" cy="840.47" r="5.1" fill="#cce0a0"/>
<circle cx="2019.66" cy="959.02" r="5.1" fill="#cce0a0"/>
<circle cx="2136.38" cy="1063.58" r="5.1" fill="#cce0a0"/>
<polyline points="1669.5,671.31 1786.22,732.58 1902.94,841.41 2019.66,964.02 2136.38,1069.58" fill="none" stroke="#8aab4f" stroke-width="2.9" stroke-linejoin="round"/>
<circle cx="1669.5" cy="671.31" r="5.1" fill="#8aab4f"/>
<circle cx="1786.22" cy="732.58" r="5.1" fill="#8aab4f"/>
<circle cx="1902.94" cy="841.41" r="5.1" fill="#8aab4f"/>
<circle cx="2019.66" cy="964.02" r="5.1" fill="#8aab4f"/>
<circle cx="2136.38" cy="1069.58" r="5.1" fill="#8aab4f"/>
<polyline points="1669.5,666.65 1786.22,729.92 1902.94,814.5 2019.66,939.71 2136.38,1051.6" fill="none" stroke="#b1dc6c" stroke-width="2.9" stroke-linejoin="round"/>
<circle cx="1669.5" cy="666.65" r="5.1" fill="#b1dc6c"/>
<circle cx="1786.22" cy="729.92" r="5.1" fill="#b1dc6c"/>
<circle cx="1902.94" cy="814.5" r="5.1" fill="#b1dc6c"/>
<circle cx="2019.66" cy="939.71" r="5.1" fill="#b1dc6c"/>
<circle cx="2136.38" cy="1051.6" r="5.1" fill="#b1dc6c"/>
<polyline points="1669.5,667.98 1786.22,718.26 1902.94,797.52 2019.66,903.74 2136.38,1007.64" fill="none" stroke="#4a4fb0" stroke-width="2.9" stroke-linejoin="round"/>
<circle cx="1669.5" cy="667.98" r="5.1" fill="#4a4fb0"/>
<circle cx="1786.22" cy="718.26" r="5.1" fill="#4a4fb0"/>
<circle cx="1902.94" cy="797.52" r="5.1" fill="#4a4fb0"/>
<circle cx="2019.66" cy="903.74" r="5.1" fill="#4a4fb0"/>
<circle cx="2136.38" cy="1007.64" r="5.1" fill="#4a4fb0"/>
<polyline points="1669.5,663.32 1786.22,708.61 1902.94,785.4 2019.66,888.83 2136.38,997.98" fill="none" stroke="#a9c6e8" stroke-width="2.9" stroke-linejoin="round"/>
<circle cx="1669.5" cy="663.32" r="5.1" fill="#a9c6e8"/>
<circle cx="1786.22" cy="708.61" r="5.1" fill="#a9c6e8"/>
<circle cx="1902.94" cy="785.4" r="5.1" fill="#a9c6e8"/>
<circle cx="2019.66" cy="888.83" r="5.1" fill="#a9c6e8"/>
<circle cx="2136.38" cy="997.98" r="5.1" fill="#a9c6e8"/>
<polyline points="1669.5,667.98 1786.22,727.52 1902.94,829.82 2019.66,953.29 2136.38,1057.92" fill="none" stroke="#b87bc4" stroke-width="2.9" stroke-linejoin="round"/>
<circle cx="1669.5" cy="667.98" r="5.1" fill="#b87bc4"/>
<circle cx="1786.22" cy="727.52" r="5.1" fill="#b87bc4"/>
<circle cx="1902.94" cy="829.82" r="5.1" fill="#b87bc4"/>
<circle cx="2019.66" cy="953.29" r="5.1" fill="#b87bc4"/>
<circle cx="2136.38" cy="1057.92" r="5.1" fill="#b87bc4"/>
<polyline points="1669.5,659.99 1786.22,701.28 1902.94,773.21 2019.66,877.1 2136.38,990.79" fill="none" stroke="#f0f26a" stroke-width="2.9" stroke-linejoin="round"/>
<circle cx="1669.5" cy="659.99" r="5.1" fill="#f0f26a"/>
<circle cx="1786.22" cy="701.28" r="5.1" fill="#f0f26a"/>
<circle cx="1902.94" cy="773.21" r="5.1" fill="#f0f26a"/>
<circle cx="2019.66" cy="877.1" r="5.1" fill="#f0f26a"/>
<circle cx="2136.38" cy="990.79" r="5.1" fill="#f0f26a"/>
<polyline points="1669.5,675.31 1786.22,740.57 1902.94,836.48 2019.66,957.02 2136.38,1060.92" fill="none" stroke="#808080" stroke-width="2.9" stroke-linejoin="round"/>
<circle cx="1669.5" cy="675.31" r="5.1" fill="#808080"/>
<circle cx="1786.22" cy="740.57" r="5.1" fill="#808080"/>
<circle cx="1902.94" cy="836.48" r="5.1" fill="#808080"/>
<circle cx="2019.66" cy="957.02" r="5.1" fill="#808080"/>
<circle cx="2136.38" cy="1060.92" r="5.1" fill="#808080"/>
<line x1="1663.75" y1="788" x2="1696.25" y2="788" stroke="#b5424e" stroke-width="2.61"/>
<circle cx="1680" cy="788" r="4.84" fill="#b5424e"/>
<text x="1702.8" y="795.71" font-size="22.4" text-anchor="start">CUX2</text>
<line x1="1663.75" y1="809.28" x2="1696.25" y2="809.28" stroke="#e3919e" stroke-width="2.61"/>
<circle cx="1680" cy="809.28" r="4.84" fill="#e3919e"/>
<text x="1702.8" y="816.99" font-size="22.4" text-anchor="start">RORB</text>
<line x1="1663.75" y1="830.56" x2="1696.25" y2="830.56" stroke="#8a3a3f" stroke-width="2.61"/>
<circle cx="1680" cy="830.56" r="4.84" fill="#8a3a3f"/>
<text x="1702.8" y="838.27" font-size="22.4" text-anchor="start">FEZF2</text>
<line x1="1663.75" y1="851.84" x2="1696.25" y2="851.84" stroke="#d8566c" stroke-width="2.61"/>
<circle cx="1680" cy="851.84" r="4.84" fill="#d8566c"/>
<text x="1702.8" y="859.55" font-size="22.4" text-anchor="start">OPRK1</text>
<line x1="1663.75" y1="873.12" x2="1696.25" y2="873.12" stroke="#688b3a" stroke-width="2.61"/>
<circle cx="1680" cy="873.12" r="4.84" fill="#688b3a"/>
<text x="1702.8" y="880.83" font-size="22.4" text-anchor="start">LAMP5</text>
<line x1="1663.75" y1="894.4" x2="1696.25" y2="894.4" stroke="#a5e64f" stroke-width="2.61"/>
<circle cx="1680" cy="894.4" r="4.84" fill="#a5e64f"/>
<text x="1702.8" y="902.11" font-size="22.4" text-anchor="start">KCNG1</text>
<line x1="1663.75" y1="915.68" x2="1696.25" y2="915.68" stroke="#cce0a0" stroke-width="2.61"/>
<circle cx="1680" cy="915.68" r="4.84" fill="#cce0a0"/>
<text x="1702.8" y="923.39" font-size="22.4" text-anchor="start">VIP</text>
<line x1="1663.75" y1="936.96" x2="1696.25" y2="936.96" stroke="#8aab4f" stroke-width="2.61"/>
<circle cx="1680" cy="936.96" r="4.84" fill="#8aab4f"/>
<text x="1702.8" y="944.67" font-size="22.4" text-anchor="start">SST</text>
<line x1="1663.75" y1="958.24" x2="1696.25" y2="958.24" stroke="#b1dc6c" stroke-width="2.61"/>
<circle cx="1680" cy="958.24" r="4.84" fill="#b1dc6c"/>
<text x="1702.8" y="965.95" font-size="22.4" text-anchor="start">PVALB</text>
<line x1="1663.75" y1="979.52" x2="1696.25" y2="979.52" stroke="#4a4fb0" stroke-width="2.61"/>
<circle cx="1680" cy="979.52" r="4.84" fill="#4a4fb0"/>
<text x="1702.8" y="987.23" font-size="22.4" text-anchor="start">OLG</text>
<line x1="1663.75" y1="1000.8" x2="1696.25" y2="1000.8" stroke="#a9c6e8" stroke-width="2.61"/>
<circle cx="1680" cy="1000.8" r="4.84" fill="#a9c6e8"/>
<text x="1702.8" y="1008.51" font-size="22.4" text-anchor="start">OPC</text>
<line x1="1663.75" y1="1022.08" x2="1696.25" y2="1022.08" stroke="#b87bc4" stroke-width="2.61"/>
<circle cx="1680" cy="1022.08" r="4.84" fill="#b87bc4"/>
<text x="1702.8" y="1029.79" font-size="22.4" text-anchor="start">END</text>
<line x1="1663.75" y1="1043.36" x2="1696.25" y2="1043.36" stroke="#f0f26a" stroke-width="2.61"/>
<circle cx="1680" cy="1043.36" r="4.84" fill="#f0f26a"/>
<text x="1702.8" y="1051.07" font-size="22.4" text-anchor="start">AST</text>
<line x1="1663.75" y1="1064.64" x2="1696.25" y2="1064.64" stroke="#808080" stroke-width="2.61"/>
<circle cx="1680" cy="1064.64" r="4.84" fill="#808080"/>
<text x="1702.8" y="1072.35" font-size="22.4" text-anchor="start">MG</text>
<rect x="1646.5" y="638.75" width="513.9" height="450.65" fill="none" stroke="#000" stroke-width="2.8"/>
<line x1="1640.9" y1="1047.6" x2="1646.5" y2="1047.6" stroke="#000" stroke-width="2.6"/>
<text x="1633.3" y="1058" font-size="29.6" text-anchor="end">0.4</text>
<line x1="1640.9" y1="981" x2="1646.5" y2="981" stroke="#000" stroke-width="2.6"/>
<text x="1633.3" y="991.4" font-size="29.6" text-anchor="end">0.5</text>
<line x1="1640.9" y1="914.4" x2="1646.5" y2="914.4" stroke="#000" stroke-width="2.6"/>
<text x="1633.3" y="924.8" font-size="29.6" text-anchor="end">0.6</text>
<line x1="1640.9" y1="847.8" x2="1646.5" y2="847.8" stroke="#000" stroke-width="2.6"/>
<text x="1633.3" y="858.2" font-size="29.6" text-anchor="end">0.7</text>
<line x1="1640.9" y1="781.2" x2="1646.5" y2="781.2" stroke="#000" stroke-width="2.6"/>
<text x="1633.3" y="791.6" font-size="29.6" text-anchor="end">0.8</text>
<line x1="1640.9" y1="714.6" x2="1646.5" y2="714.6" stroke="#000" stroke-width="2.6"/>
<text x="1633.3" y="725" font-size="29.6" text-anchor="end">0.9</text>
<line x1="1640.9" y1="648" x2="1646.5" y2="648" stroke="#000" stroke-width="2.6"/>
<text x="1633.3" y="658.4" font-size="29.6" text-anchor="end">1.0</text>
<line x1="1669.5" y1="1089.4" x2="1669.5" y2="1095" stroke="#000" stroke-width="2.6"/>
<text x="1669.5" y="1124.3" font-size="29.6" text-anchor="middle">0.2</text>
<line x1="1786.22" y1="1089.4" x2="1786.22" y2="1095" stroke="#000" stroke-width="2.6"/>
<text x="1786.22" y="1124.3" font-size="29.6" text-anchor="middle">0.4</text>
<line x1="1902.94" y1="1089.4" x2="1902.94" y2="1095" stroke="#000" stroke-width="2.6"/>
<text x="1902.94" y="1124.3" font-size="29.6" text-anchor="middle">0.6</text>
<line x1="2019.66" y1="1089.4" x2="2019.66" y2="1095" stroke="#000" stroke-width="2.6"/>
<text x="2019.66" y="1124.3" font-size="29.6" text-anchor="middle">0.8</text>
<line x1="2136.38" y1="1089.4" x2="2136.38" y2="1095" stroke="#000" stroke-width="2.6"/>
<text x="2136.38" y="1124.3" font-size="29.6" text-anchor="middle">1.0</text>
<text x="1566" y="864" font-size="37.6" text-anchor="middle" transform="rotate(-90 1566 864)">Overlap %</text>
<text x="1902.5" y="1178" font-size="37.6" text-anchor="middle">Minimum overlap threshold</text>
<g shape-rendering="crispEdges">
<rect x="141.25" y="1317.5" width="73.19" height="73.11" fill="#6b0c14"/>
<rect x="214.04" y="1317.5" width="73.19" height="73.11" fill="#f0a48c"/>
<rect x="286.82" y="1317.5" width="73.19" height="73.11" fill="#f9ece5"/>
<rect x="359.61" y="1317.5" width="73.19" height="73.11" fill="#f6dfd2"/>
<rect x="432.39" y="1317.5" width="73.19" height="73.11" fill="#f7e4d9"/>
<rect x="505.18" y="1317.5" width="73.19" height="73.11" fill="#f6dfd2"/>
<rect x="577.96" y="1317.5" width="73.19" height="73.11" fill="#fbf3ee"/>
<rect x="141.25" y="1390.21" width="73.19" height="73.11" fill="#f0a48c"/>
<rect x="214.04" y="1390.21" width="73.19" height="73.11" fill="#6b0c14"/>
<rect x="286.82" y="1390.21" width="73.19" height="73.11" fill="#f3cab9"/>
<rect x="359.61" y="1390.21" width="73.19" height="73.11" fill="#f1ac95"/>
<rect x="432.39" y="1390.21" width="73.19" height="73.11" fill="#f3cab9"/>
<rect x="505.18" y="1390.21" width="73.19" height="73.11" fill="#f2bca8"/>
<rect x="577.96" y="1390.21" width="73.19" height="73.11" fill="#f7e4d9"/>
<rect x="141.25" y="1462.93" width="73.19" height="73.11" fill="#f9ece5"/>
<rect x="214.04" y="1462.93" width="73.19" height="73.11" fill="#f3cab9"/>
<rect x="286.82" y="1462.93" width="73.19" height="73.11" fill="#6b0c14"/>
<rect x="359.61" y="1462.93" width="73.19" height="73.11" fill="#ef957b"/>
<rect x="432.39" y="1462.93" width="73.19" height="73.11" fill="#f3c4b1"/>
<rect x="505.18" y="1462.93" width="73.19" height="73.11" fill="#f09d84"/>
<rect x="577.96" y="1462.93" width="73.19" height="73.11" fill="#f6dfd2"/>
<rect x="141.25" y="1535.64" width="73.19" height="73.11" fill="#f6dfd2"/>
<rect x="214.04" y="1535.64" width="73.19" height="73.11" fill="#f1ac95"/>
<rect x="286.82" y="1535.64" width="73.19" height="73.11" fill="#ef957b"/>
<rect x="359.61" y="1535.64" width="73.19" height="73.11" fill="#6b0c14"/>
<rect x="432.39" y="1535.64" width="73.19" height="73.11" fill="#f1b49e"/>
<rect x="505.18" y="1535.64" width="73.19" height="73.11" fill="#ee8a70"/>
<rect x="577.96" y="1535.64" width="73.19" height="73.11" fill="#f5d8ca"/>
<rect x="141.25" y="1608.36" width="73.19" height="73.11" fill="#f7e4d9"/>
<rect x="214.04" y="1608.36" width="73.19" height="73.11" fill="#f3cab9"/>
<rect x="286.82" y="1608.36" width="73.19" height="73.11" fill="#f3c4b1"/>
<rect x="359.61" y="1608.36" width="73.19" height="73.11" fill="#f1b49e"/>
<rect x="432.39" y="1608.36" width="73.19" height="73.11" fill="#6b0c14"/>
<rect x="505.18" y="1608.36" width="73.19" height="73.11" fill="#f09d84"/>
<rect x="577.96" y="1608.36" width="73.19" height="73.11" fill="#f2bca8"/>
<rect x="141.25" y="1681.07" width="73.19" height="73.11" fill="#f6dfd2"/>
<rect x="214.04" y="1681.07" width="73.19" height="73.11" fill="#f2bca8"/>
<rect x="286.82" y="1681.07" width="73.19" height="73.11" fill="#f09d84"/>
<rect x="359.61" y="1681.07" width="73.19" height="73.11" fill="#ee8a70"/>
<rect x="432.39" y="1681.07" width="73.19" height="73.11" fill="#f09d84"/>
<rect x="505.18" y="1681.07" width="73.19" height="73.11" fill="#6b0c14"/>
<rect x="577.96" y="1681.07" width="73.19" height="73.11" fill="#f4d2c3"/>
<rect x="141.25" y="1753.79" width="73.19" height="73.11" fill="#fbf3ee"/>
<rect x="214.04" y="1753.79" width="73.19" height="73.11" fill="#f7e4d9"/>
<rect x="286.82" y="1753.79" width="73.19" height="73.11" fill="#f6dfd2"/>
<rect x="359.61" y="1753.79" width="73.19" height="73.11" fill="#f5d8ca"/>
<rect x="432.39" y="1753.79" width="73.19" height="73.11" fill="#f2bca8"/>
<rect x="505.18" y="1753.79" width="73.19" height="73.11" fill="#f4d2c3"/>
<rect x="577.96" y="1753.79" width="73.19" height="73.11" fill="#6b0c14"/>
</g>
<g font-size="27.5" text-anchor="middle">
<text x="174.94" y="1362.52">1.0</text>
<text x="247.73" y="1362.52">0.28</text>
<text x="320.51" y="1362.52">0.17</text>
<text x="393.3" y="1362.52">0.2</text>
<text x="466.09" y="1362.52">0.19</text>
<text x="538.87" y="1362.52">0.2</text>
<text x="611.66" y="1362.52">0.16</text>
<text x="174.94" y="1435.23">0.28</text>
<text x="247.73" y="1435.23">1.0</text>
<text x="320.51" y="1435.23">0.23</text>
<text x="393.3" y="1435.23">0.27</text>
<text x="466.09" y="1435.23">0.23</text>
<text x="538.87" y="1435.23">0.25</text>
<text x="611.66" y="1435.23">0.19</text>
<text x="174.94" y="1507.95">0.17</text>
<text x="247.73" y="1507.95">0.23</text>
<text x="320.51" y="1507.95">1.0</text>
<text x="393.3" y="1507.95">0.3</text>
<text x="466.09" y="1507.95">0.24</text>
<text x="538.87" y="1507.95">0.29</text>
<text x="611.66" y="1507.95">0.2</text>
<text x="174.94" y="1580.66">0.2</text>
<text x="247.73" y="1580.66">0.27</text>
<text x="320.51" y="1580.66">0.3</text>
<text x="393.3" y="1580.66">1.0</text>
<text x="466.09" y="1580.66">0.26</text>
<text x="538.87" y="1580.66">0.32</text>
<text x="611.66" y="1580.66">0.21</text>
<text x="174.94" y="1653.37">0.19</text>
<text x="247.73" y="1653.37">0.23</text>
<text x="320.51" y="1653.37">0.24</text>
<text x="393.3" y="1653.37">0.26</text>
<text x="466.09" y="1653.37">1.0</text>
<text x="538.87" y="1653.37">0.29</text>
<text x="611.66" y="1653.37">0.25</text>
<text x="174.94" y="1726.09">0.2</text>
<text x="247.73" y="1726.09">0.25</text>
<text x="320.51" y="1726.09">0.29</text>
<text x="393.3" y="1726.09">0.32</text>
<text x="466.09" y="1726.09">0.29</text>
<text x="538.87" y="1726.09">1.0</text>
<text x="611.66" y="1726.09">0.22</text>
<text x="174.94" y="1798.8">0.16</text>
<text x="247.73" y="1798.8">0.19</text>
<text x="320.51" y="1798.8">0.2</text>
<text x="393.3" y="1798.8">0.21</text>
<text x="466.09" y="1798.8">0.25</text>
<text x="538.87" y="1798.8">0.22</text>
<text x="611.66" y="1798.8">1.0</text>
</g>
<rect x="141.25" y="1317.5" width="509.5" height="509" fill="none" stroke="#000" stroke-width="2.7"/>
<text x="128.3" y="1368.55" font-size="29.5" text-anchor="end">EXN</text>
<text x="192.95" y="1839.8" font-size="29.5" text-anchor="end" transform="rotate(-90 192.95 1839.8)">EXN</text>
<text x="128.3" y="1439.95" font-size="29.5" text-anchor="end">IN</text>
<text x="264.35" y="1839.8" font-size="29.5" text-anchor="end" transform="rotate(-90 264.35 1839.8)">IN</text>
<text x="128.3" y="1511.35" font-size="29.5" text-anchor="end">OLG</text>
<text x="335.75" y="1839.8" font-size="29.5" text-anchor="end" transform="rotate(-90 335.75 1839.8)">OLG</text>
<text x="128.3" y="1582.75" font-size="29.5" text-anchor="end">OPC</text>
<text x="407.15" y="1839.8" font-size="29.5" text-anchor="end" transform="rotate(-90 407.15 1839.8)">OPC</text>
<text x="128.3" y="1654.15" font-size="29.5" text-anchor="end">END</text>
<text x="478.55" y="1839.8" font-size="29.5" text-anchor="end" transform="rotate(-90 478.55 1839.8)">END</text>
<text x="128.3" y="1725.55" font-size="29.5" text-anchor="end">AST</text>
<text x="549.95" y="1839.8" font-size="29.5" text-anchor="end" transform="rotate(-90 549.95 1839.8)">AST</text>
<text x="128.3" y="1796.95" font-size="29.5" text-anchor="end">MG</text>
<text x="621.35" y="1839.8" font-size="29.5" text-anchor="end" transform="rotate(-90 621.35 1839.8)">MG</text>
<text x="395.6" y="1957.75" font-size="37.6" text-anchor="middle">Multiome</text>
<text x="42.3" y="1572.5" font-size="37.6" text-anchor="middle" transform="rotate(-90 42.3 1572.5)">Multiome</text>
<linearGradient id="cbf" x1="0" y1="1" x2="0" y2="0"><stop offset="0" stop-color="#fff5f0"/><stop offset="0.12" stop-color="#fee0d2"/><stop offset="0.25" stop-color="#fcbba1"/><stop offset="0.38" stop-color="#fc9272"/><stop offset="0.5" stop-color="#fb6a4a"/><stop offset="0.62" stop-color="#ef3b2c"/><stop offset="0.75" stop-color="#cb181d"/><stop offset="0.88" stop-color="#a50f15"/><stop offset="1" stop-color="#67000d"/></linearGradient>
<rect x="666.95" y="1317.5" width="25.6" height="509" fill="url(#cbf)" stroke="#000" stroke-width="2.5"/>
<text x="698.3" y="1339" font-size="29.6" text-anchor="start">1</text>
<text x="780.3" y="1824.1" font-size="29.6" text-anchor="end">0.16</text>
<g shape-rendering="crispEdges">
<rect x="886.75" y="1317.5" width="36.76" height="36.76" fill="#6b0c14"/>
<rect x="923.11" y="1317.5" width="36.76" height="36.76" fill="#f05e43"/>
<rect x="959.46" y="1317.5" width="36.76" height="36.76" fill="#f08266"/>
<rect x="995.82" y="1317.5" width="36.76" height="36.76" fill="#f05e43"/>
<rect x="1032.18" y="1317.5" width="36.76" height="36.76" fill="#f4d2c3"/>
<rect x="1068.54" y="1317.5" width="36.76" height="36.76" fill="#f7e4d9"/>
<rect x="1104.89" y="1317.5" width="36.76" height="36.76" fill="#f3cab9"/>
<rect x="1141.25" y="1317.5" width="36.76" height="36.76" fill="#f1b49e"/>
<rect x="1177.61" y="1317.5" width="36.76" height="36.76" fill="#f1b49e"/>
<rect x="1213.96" y="1317.5" width="36.76" height="36.76" fill="#f9ece5"/>
<rect x="1250.32" y="1317.5" width="36.76" height="36.76" fill="#f6dfd2"/>
<rect x="1286.68" y="1317.5" width="36.76" height="36.76" fill="#f7e4d9"/>
<rect x="1323.04" y="1317.5" width="36.76" height="36.76" fill="#f6dfd2"/>
<rect x="1359.39" y="1317.5" width="36.76" height="36.76" fill="#fbf3ee"/>
<rect x="886.75" y="1353.86" width="36.76" height="36.76" fill="#f05e43"/>
<rect x="923.11" y="1353.86" width="36.76" height="36.76" fill="#6b0c14"/>
<rect x="959.46" y="1353.86" width="36.76" height="36.76" fill="#f0765a"/>
<rect x="995.82" y="1353.86" width="36.76" height="36.76" fill="#ef684c"/>
<rect x="1032.18" y="1353.86" width="36.76" height="36.76" fill="#f3cab9"/>
<rect x="1068.54" y="1353.86" width="36.76" height="36.76" fill="#f6dfd2"/>
<rect x="1104.89" y="1353.86" width="36.76" height="36.76" fill="#f3c4b1"/>
<rect x="1141.25" y="1353.86" width="36.76" height="36.76" fill="#f1b49e"/>
<rect x="1177.61" y="1353.86" width="36.76" height="36.76" fill="#f1ac95"/>
<rect x="1213.96" y="1353.86" width="36.76" height="36.76" fill="#f7e4d9"/>
<rect x="1250.32" y="1353.86" width="36.76" height="36.76" fill="#f5d8ca"/>
<rect x="1286.68" y="1353.86" width="36.76" height="36.76" fill="#f6dfd2"/>
<rect x="1323.04" y="1353.86" width="36.76" height="36.76" fill="#f4d2c3"/>
<rect x="1359.39" y="1353.86" width="36.76" height="36.76" fill="#f9ece5"/>
<rect x="886.75" y="1390.21" width="36.76" height="36.76" fill="#f08266"/>
<rect x="923.11" y="1390.21" width="36.76" height="36.76" fill="#f0765a"/>
<rect x="959.46" y="1390.21" width="36.76" height="36.76" fill="#6b0c14"/>
<rect x="995.82" y="1390.21" width="36.76" height="36.76" fill="#f07c60"/>
<rect x="1032.18" y="1390.21" width="36.76" height="36.76" fill="#f3c4b1"/>
<rect x="1068.54" y="1390.21" width="36.76" height="36.76" fill="#f5d8ca"/>
<rect x="1104.89" y="1390.21" width="36.76" height="36.76" fill="#f3cab9"/>
<rect x="1141.25" y="1390.21" width="36.76" height="36.76" fill="#f1b49e"/>
<rect x="1177.61" y="1390.21" width="36.76" height="36.76" fill="#f1b49e"/>
<rect x="1213.96" y="1390.21" width="36.76" height="36.76" fill="#f7e4d9"/>
<rect x="1250.32" y="1390.21" width="36.76" height="36.76" fill="#f5d8ca"/>
<rect x="1286.68" y="1390.21" width="36.76" height="36.76" fill="#f6dfd2"/>
<rect x="1323.04" y="1390.21" width="36.76" height="36.76" fill="#f4d2c3"/>
<rect x="1359.39" y="1390.21" width="36.76" height="36.76" fill="#f9ece5"/>
<rect x="886.75" y="1426.57" width="36.76" height="36.76" fill="#f05e43"/>
<rect x="923.11" y="1426.57" width="36.76" height="36.76" fill="#ef684c"/>
<rect x="959.46" y="1426.57" width="36.76" height="36.76" fill="#f07c60"/>
<rect x="995.82" y="1426.57" width="36.76" height="36.76" fill="#6b0c14"/>
<rect x="1032.18" y="1426.57" width="36.76" height="36.76" fill="#f4d2c3"/>
<rect x="1068.54" y="1426.57" width="36.76" height="36.76" fill="#f7e4d9"/>
<rect x="1104.89" y="1426.57" width="36.76" height="36.76" fill="#f4d2c3"/>
<rect x="1141.25" y="1426.57" width="36.76" height="36.76" fill="#f2bca8"/>
<rect x="1177.61" y="1426.57" width="36.76" height="36.76" fill="#f1b49e"/>
<rect x="1213.96" y="1426.57" width="36.76" height="36.76" fill="#f8e8df"/>
<rect x="1250.32" y="1426.57" width="36.76" height="36.76" fill="#f6dfd2"/>
<rect x="1286.68" y="1426.57" width="36.76" height="36.76" fill="#f7e4d9"/>
<rect x="1323.04" y="1426.57" width="36.76" height="36.76" fill="#f6dfd2"/>
<rect x="1359.39" y="1426.57" width="36.76" height="36.76" fill="#fbf3ee"/>
<rect x="886.75" y="1462.93" width="36.76" height="36.76" fill="#f4d2c3"/>
<rect x="923.11" y="1462.93" width="36.76" height="36.76" fill="#f3cab9"/>
<rect x="959.46" y="1462.93" width="36.76" height="36.76" fill="#f3c4b1"/>
<rect x="995.82" y="1462.93" width="36.76" height="36.76" fill="#f4d2c3"/>
<rect x="1032.18" y="1462.93" width="36.76" height="36.76" fill="#6b0c14"/>
<rect x="1068.54" y="1462.93" width="36.76" height="36.76" fill="#f09d84"/>
<rect x="1104.89" y="1462.93" width="36.76" height="36.76" fill="#f1b49e"/>
<rect x="1141.25" y="1462.93" width="36.76" height="36.76" fill="#f2bca8"/>
<rect x="1177.61" y="1462.93" width="36.76" height="36.76" fill="#f1ac95"/>
<rect x="1213.96" y="1462.93" width="36.76" height="36.76" fill="#f4d2c3"/>
<rect x="1250.32" y="1462.93" width="36.76" height="36.76" fill="#f3c4b1"/>
<rect x="1286.68" y="1462.93" width="36.76" height="36.76" fill="#f6dfd2"/>
<rect x="1323.04" y="1462.93" width="36.76" height="36.76" fill="#f3c4b1"/>
<rect x="1359.39" y="1462.93" width="36.76" height="36.76" fill="#f8e8df"/>
<rect x="886.75" y="1499.29" width="36.76" height="36.76" fill="#f7e4d9"/>
<rect x="923.11" y="1499.29" width="36.76" height="36.76" fill="#f6dfd2"/>
<rect x="959.46" y="1499.29" width="36.76" height="36.76" fill="#f5d8ca"/>
<rect x="995.82" y="1499.29" width="36.76" height="36.76" fill="#f7e4d9"/>
<rect x="1032.18" y="1499.29" width="36.76" height="36.76" fill="#f09d84"/>
<rect x="1068.54" y="1499.29" width="36.76" height="36.76" fill="#6b0c14"/>
<rect x="1104.89" y="1499.29" width="36.76" height="36.76" fill="#f2bca8"/>
<rect x="1141.25" y="1499.29" width="36.76" height="36.76" fill="#f3cab9"/>
<rect x="1177.61" y="1499.29" width="36.76" height="36.76" fill="#f3c4b1"/>
<rect x="1213.96" y="1499.29" width="36.76" height="36.76" fill="#f5d8ca"/>
<rect x="1250.32" y="1499.29" width="36.76" height="36.76" fill="#f3c4b1"/>
<rect x="1286.68" y="1499.29" width="36.76" height="36.76" fill="#f8e8df"/>
<rect x="1323.04" y="1499.29" width="36.76" height="36.76" fill="#f4d2c3"/>
<rect x="1359.39" y="1499.29" width="36.76" height="36.76" fill="#f8e8df"/>
<rect x="886.75" y="1535.64" width="36.76" height="36.76" fill="#f3cab9"/>
<rect x="923.11" y="1535.64" width="36.76" height="36.76" fill="#f3c4b1"/>
<rect x="959.46" y="1535.64" width="36.76" height="36.76" fill="#f3cab9"/>
<rect x="995.82" y="1535.64" width="36.76" height="36.76" fill="#f4d2c3"/>
<rect x="1032.18" y="1535.64" width="36.76" height="36.76" fill="#f1b49e"/>
<rect x="1068.54" y="1535.64" width="36.76" height="36.76" fill="#f2bca8"/>
<rect x="1104.89" y="1535.64" width="36.76" height="36.76" fill="#6b0c14"/>
<rect x="1141.25" y="1535.64" width="36.76" height="36.76" fill="#f2bca8"/>
<rect x="1177.61" y="1535.64" width="36.76" height="36.76" fill="#f0a48c"/>
<rect x="1213.96" y="1535.64" width="36.76" height="36.76" fill="#f4d2c3"/>
<rect x="1250.32" y="1535.64" width="36.76" height="36.76" fill="#f2bca8"/>
<rect x="1286.68" y="1535.64" width="36.76" height="36.76" fill="#f5d8ca"/>
<rect x="1323.04" y="1535.64" width="36.76" height="36.76" fill="#f3c4b1"/>
<rect x="1359.39" y="1535.64" width="36.76" height="36.76" fill="#f9ece5"/>
<rect x="886.75" y="1572" width="36.76" height="36.76" fill="#f1b49e"/>
<rect x="923.11" y="1572" width="36.76" height="36.76" fill="#f1b49e"/>
<rect x="959.46" y="1572" width="36.76" height="36.76" fill="#f1b49e"/>
<rect x="995.82" y="1572" width="36.76" height="36.76" fill="#f2bca8"/>
<rect x="1032.18" y="1572" width="36.76" height="36.76" fill="#f2bca8"/>
<rect x="1068.54" y="1572" width="36.76" height="36.76" fill="#f3cab9"/>
<rect x="1104.89" y="1572" width="36.76" height="36.76" fill="#f2bca8"/>
<rect x="1141.25" y="1572" width="36.76" height="36.76" fill="#6b0c14"/>
<rect x="1177.61" y="1572" width="36.76" height="36.76" fill="#ef8569"/>
<rect x="1213.96" y="1572" width="36.76" height="36.76" fill="#f7e4d9"/>
<rect x="1250.32" y="1572" width="36.76" height="36.76" fill="#f4d2c3"/>
<rect x="1286.68" y="1572" width="36.76" height="36.76" fill="#f7e4d9"/>
<rect x="1323.04" y="1572" width="36.76" height="36.76" fill="#f5d8ca"/>
<rect x="1359.39" y="1572" width="36.76" height="36.76" fill="#f9ece5"/>
<rect x="886.75" y="1608.36" width="36.76" height="36.76" fill="#f1b49e"/>
<rect x="923.11" y="1608.36" width="36.76" height="36.76" fill="#f1ac95"/>
<rect x="959.46" y="1608.36" width="36.76" height="36.76" fill="#f1b49e"/>
<rect x="995.82" y="1608.36" width="36.76" height="36.76" fill="#f1b49e"/>
<rect x="1032.18" y="1608.36" width="36.76" height="36.76" fill="#f1ac95"/>
<rect x="1068.54" y="1608.36" width="36.76" height="36.76" fill="#f3c4b1"/>
<rect x="1104.89" y="1608.36" width="36.76" height="36.76" fill="#f0a48c"/>
<rect x="1141.25" y="1608.36" width="36.76" height="36.76" fill="#ef8569"/>
<rect x="1177.61" y="1608.36" width="36.76" height="36.76" fill="#6b0c14"/>
<rect x="1213.96" y="1608.36" width="36.76" height="36.76" fill="#f5d8ca"/>
<rect x="1250.32" y="1608.36" width="36.76" height="36.76" fill="#f3c4b1"/>
<rect x="1286.68" y="1608.36" width="36.76" height="36.76" fill="#f5d8ca"/>
<rect x="1323.04" y="1608.36" width="36.76" height="36.76" fill="#f3cab9"/>
<rect x="1359.39" y="1608.36" width="36.76" height="36.76" fill="#f8e8df"/>
<rect x="886.75" y="1644.71" width="36.76" height="36.76" fill="#f9ece5"/>
<rect x="923.11" y="1644.71" width="36.76" height="36.76" fill="#f7e4d9"/>
<rect x="959.46" y="1644.71" width="36.76" height="36.76" fill="#f7e4d9"/>
<rect x="995.82" y="1644.71" width="36.76" height="36.76" fill="#f8e8df"/>
<rect x="1032.18" y="1644.71" width="36.76" height="36.76" fill="#f4d2c3"/>
<rect x="1068.54" y="1644.71" width="36.76" height="36.76" fill="#f5d8ca"/>
<rect x="1104.89" y="1644.71" width="36.76" height="36.76" fill="#f4d2c3"/>
<rect x="1141.25" y="1644.71" width="36.76" height="36.76" fill="#f7e4d9"/>
<rect x="1177.61" y="1644.71" width="36.76" height="36.76" fill="#f5d8ca"/>
<rect x="1213.96" y="1644.71" width="36.76" height="36.76" fill="#6b0c14"/>
<rect x="1250.32" y="1644.71" width="36.76" height="36.76" fill="#ef957b"/>
<rect x="1286.68" y="1644.71" width="36.76" height="36.76" fill="#f3c4b1"/>
<rect x="1323.04" y="1644.71" width="36.76" height="36.76" fill="#f09d84"/>
<rect x="1359.39" y="1644.71" width="36.76" height="36.76" fill="#f5d8ca"/>
<rect x="886.75" y="1681.07" width="36.76" height="36.76" fill="#f6dfd2"/>
<rect x="923.11" y="1681.07" width="36.76" height="36.76" fill="#f5d8ca"/>
<rect x="959.46" y="1681.07" width="36.76" height="36.76" fill="#f5d8ca"/>
<rect x="995.82" y="1681.07" width="36.76" height="36.76" fill="#f6dfd2"/>
<rect x="1032.18" y="1681.07" width="36.76" height="36.76" fill="#f3c4b1"/>
<rect x="1068.54" y="1681.07" width="36.76" height="36.76" fill="#f3c4b1"/>
<rect x="1104.89" y="1681.07" width="36.76" height="36.76" fill="#f2bca8"/>
<rect x="1141.25" y="1681.07" width="36.76" height="36.76" fill="#f4d2c3"/>
<rect x="1177.61" y="1681.07" width="36.76" height="36.76" fill="#f3c4b1"/>
<rect x="1213.96" y="1681.07" width="36.76" height="36.76" fill="#ef957b"/>
<rect x="1250.32" y="1681.07" width="36.76" height="36.76" fill="#6b0c14"/>
<rect x="1286.68" y="1681.07" width="36.76" height="36.76" fill="#f1b49e"/>
<rect x="1323.04" y="1681.07" width="36.76" height="36.76" fill="#ee8a70"/>
<rect x="1359.39" y="1681.07" width="36.76" height="36.76" fill="#f5d8ca"/>
<rect x="886.75" y="1717.43" width="36.76" height="36.76" fill="#f7e4d9"/>
<rect x="923.11" y="1717.43" width="36.76" height="36.76" fill="#f6dfd2"/>
<rect x="959.46" y="1717.43" width="36.76" height="36.76" fill="#f6dfd2"/>
<rect x="995.82" y="1717.43" width="36.76" height="36.76" fill="#f7e4d9"/>
<rect x="1032.18" y="1717.43" width="36.76" height="36.76" fill="#f6dfd2"/>
<rect x="1068.54" y="1717.43" width="36.76" height="36.76" fill="#f8e8df"/>
<rect x="1104.89" y="1717.43" width="36.76" height="36.76" fill="#f5d8ca"/>
<rect x="1141.25" y="1717.43" width="36.76" height="36.76" fill="#f7e4d9"/>
<rect x="1177.61" y="1717.43" width="36.76" height="36.76" fill="#f5d8ca"/>
<rect x="1213.96" y="1717.43" width="36.76" height="36.76" fill="#f3c4b1"/>
<rect x="1250.32" y="1717.43" width="36.76" height="36.76" fill="#f1b49e"/>
<rect x="1286.68" y="1717.43" width="36.76" height="36.76" fill="#6b0c14"/>
<rect x="1323.04" y="1717.43" width="36.76" height="36.76" fill="#f09d84"/>
<rect x="1359.39" y="1717.43" width="36.76" height="36.76" fill="#f2bca8"/>
<rect x="886.75" y="1753.79" width="36.76" height="36.76" fill="#f6dfd2"/>
<rect x="923.11" y="1753.79" width="36.76" height="36.76" fill="#f4d2c3"/>
<rect x="959.46" y="1753.79" width="36.76" height="36.76" fill="#f4d2c3"/>
<rect x="995.82" y="1753.79" width="36.76" height="36.76" fill="#f6dfd2"/>
<rect x="1032.18" y="1753.79" width="36.76" height="36.76" fill="#f3c4b1"/>
<rect x="1068.54" y="1753.79" width="36.76" height="36.76" fill="#f4d2c3"/>
<rect x="1104.89" y="1753.79" width="36.76" height="36.76" fill="#f3c4b1"/>
<rect x="1141.25" y="1753.79" width="36.76" height="36.76" fill="#f5d8ca"/>
<rect x="1177.61" y="1753.79" width="36.76" height="36.76" fill="#f3cab9"/>
<rect x="1213.96" y="1753.79" width="36.76" height="36.76" fill="#f09d84"/>
<rect x="1250.32" y="1753.79" width="36.76" height="36.76" fill="#ee8a70"/>
<rect x="1286.68" y="1753.79" width="36.76" height="36.76" fill="#f09d84"/>
<rect x="1323.04" y="1753.79" width="36.76" height="36.76" fill="#6b0c14"/>
<rect x="1359.39" y="1753.79" width="36.76" height="36.76" fill="#f4d2c3"/>
<rect x="886.75" y="1790.14" width="36.76" height="36.76" fill="#fbf3ee"/>
<rect x="923.11" y="1790.14" width="36.76" height="36.76" fill="#f9ece5"/>
<rect x="959.46" y="1790.14" width="36.76" height="36.76" fill="#f9ece5"/>
<rect x="995.82" y="1790.14" width="36.76" height="36.76" fill="#fbf3ee"/>
<rect x="1032.18" y="1790.14" width="36.76" height="36.76" fill="#f8e8df"/>
<rect x="1068.54" y="1790.14" width="36.76" height="36.76" fill="#f8e8df"/>
<rect x="1104.89" y="1790.14" width="36.76" height="36.76" fill="#f9ece5"/>
<rect x="1141.25" y="1790.14" width="36.76" height="36.76" fill="#f9ece5"/>
<rect x="1177.61" y="1790.14" width="36.76" height="36.76" fill="#f8e8df"/>
<rect x="1213.96" y="1790.14" width="36.76" height="36.76" fill="#f5d8ca"/>
<rect x="1250.32" y="1790.14" width="36.76" height="36.76" fill="#f5d8ca"/>
<rect x="1286.68" y="1790.14" width="36.76" height="36.76" fill="#f2bca8"/>
<rect x="1323.04" y="1790.14" width="36.76" height="36.76" fill="#f4d2c3"/>
<rect x="1359.39" y="1790.14" width="36.76" height="36.76" fill="#6b0c14"/>
</g>
<g font-size="14.6" text-anchor="middle">
<text x="902.73" y="1340.4">1.0</text>
<text x="939.09" y="1340.4">0.42</text>
<text x="975.44" y="1340.4">0.35</text>
<text x="1011.8" y="1340.4">0.42</text>
<text x="1048.16" y="1340.4">0.22</text>
<text x="1084.51" y="1340.4">0.19</text>
<text x="1120.87" y="1340.4">0.23</text>
<text x="1157.23" y="1340.4">0.26</text>
<text x="1193.59" y="1340.4">0.26</text>
<text x="1229.94" y="1340.4">0.17</text>
<text x="1266.3" y="1340.4">0.2</text>
<text x="1302.66" y="1340.4">0.19</text>
<text x="1339.01" y="1340.4">0.2</text>
<text x="1375.37" y="1340.4">0.16</text>
<text x="902.73" y="1376.76">0.42</text>
<text x="939.09" y="1376.76">1.0</text>
<text x="975.44" y="1376.76">0.37</text>
<text x="1011.8" y="1376.76">0.4</text>
<text x="1048.16" y="1376.76">0.23</text>
<text x="1084.51" y="1376.76">0.2</text>
<text x="1120.87" y="1376.76">0.24</text>
<text x="1157.23" y="1376.76">0.26</text>
<text x="1193.59" y="1376.76">0.27</text>
<text x="1229.94" y="1376.76">0.19</text>
<text x="1266.3" y="1376.76">0.21</text>
<text x="1302.66" y="1376.76">0.2</text>
<text x="1339.01" y="1376.76">0.22</text>
<text x="1375.37" y="1376.76">0.17</text>
<text x="902.73" y="1413.12">0.35</text>
<text x="939.09" y="1413.12">0.37</text>
<text x="975.44" y="1413.12">1.0</text>
<text x="1011.8" y="1413.12">0.36</text>
<text x="1048.16" y="1413.12">0.24</text>
<text x="1084.51" y="1413.12">0.21</text>
<text x="1120.87" y="1413.12">0.23</text>
<text x="1157.23" y="1413.12">0.26</text>
<text x="1193.59" y="1413.12">0.26</text>
<text x="1229.94" y="1413.12">0.19</text>
<text x="1266.3" y="1413.12">0.21</text>
<text x="1302.66" y="1413.12">0.2</text>
<text x="1339.01" y="1413.12">0.22</text>
<text x="1375.37" y="1413.12">0.17</text>
<text x="902.73" y="1449.47">0.42</text>
<text x="939.09" y="1449.47">0.4</text>
<text x="975.44" y="1449.47">0.36</text>
<text x="1011.8" y="1449.47">1.0</text>
<text x="1048.16" y="1449.47">0.22</text>
<text x="1084.51" y="1449.47">0.19</text>
<text x="1120.87" y="1449.47">0.22</text>
<text x="1157.23" y="1449.47">0.25</text>
<text x="1193.59" y="1449.47">0.26</text>
<text x="1229.94" y="1449.47">0.18</text>
<text x="1266.3" y="1449.47">0.2</text>
<text x="1302.66" y="1449.47">0.19</text>
<text x="1339.01" y="1449.47">0.2</text>
<text x="1375.37" y="1449.47">0.16</text>
<text x="902.73" y="1485.83">0.22</text>
<text x="939.09" y="1485.83">0.23</text>
<text x="975.44" y="1485.83">0.24</text>
<text x="1011.8" y="1485.83">0.22</text>
<text x="1048.16" y="1485.83">1.0</text>
<text x="1084.51" y="1485.83">0.29</text>
<text x="1120.87" y="1485.83">0.26</text>
<text x="1157.23" y="1485.83">0.25</text>
<text x="1193.59" y="1485.83">0.27</text>
<text x="1229.94" y="1485.83">0.22</text>
<text x="1266.3" y="1485.83">0.24</text>
<text x="1302.66" y="1485.83">0.2</text>
<text x="1339.01" y="1485.83">0.24</text>
<text x="1375.37" y="1485.83">0.18</text>
<text x="902.73" y="1522.19">0.19</text>
<text x="939.09" y="1522.19">0.2</text>
<text x="975.44" y="1522.19">0.21</text>
<text x="1011.8" y="1522.19">0.19</text>
<text x="1048.16" y="1522.19">0.29</text>
<text x="1084.51" y="1522.19">1.0</text>
<text x="1120.87" y="1522.19">0.25</text>
<text x="1157.23" y="1522.19">0.23</text>
<text x="1193.59" y="1522.19">0.24</text>
<text x="1229.94" y="1522.19">0.21</text>
<text x="1266.3" y="1522.19">0.24</text>
<text x="1302.66" y="1522.19">0.18</text>
<text x="1339.01" y="1522.19">0.22</text>
<text x="1375.37" y="1522.19">0.18</text>
<text x="902.73" y="1558.54">0.23</text>
<text x="939.09" y="1558.54">0.24</text>
<text x="975.44" y="1558.54">0.23</text>
<text x="1011.8" y="1558.54">0.22</text>
<text x="1048.16" y="1558.54">0.26</text>
<text x="1084.51" y="1558.54">0.25</text>
<text x="1120.87" y="1558.54">1.0</text>
<text x="1157.23" y="1558.54">0.25</text>
<text x="1193.59" y="1558.54">0.28</text>
<text x="1229.94" y="1558.54">0.22</text>
<text x="1266.3" y="1558.54">0.25</text>
<text x="1302.66" y="1558.54">0.21</text>
<text x="1339.01" y="1558.54">0.24</text>
<text x="1375.37" y="1558.54">0.17</text>
<text x="902.73" y="1594.9">0.26</text>
<text x="939.09" y="1594.9">0.26</text>
<text x="975.44" y="1594.9">0.26</text>
<text x="1011.8" y="1594.9">0.25</text>
<text x="1048.16" y="1594.9">0.25</text>
<text x="1084.51" y="1594.9">0.23</text>
<text x="1120.87" y="1594.9">0.25</text>
<text x="1157.23" y="1594.9">1.0</text>
<text x="1193.59" y="1594.9">0.34</text>
<text x="1229.94" y="1594.9">0.19</text>
<text x="1266.3" y="1594.9">0.22</text>
<text x="1302.66" y="1594.9">0.19</text>
<text x="1339.01" y="1594.9">0.21</text>
<text x="1375.37" y="1594.9">0.17</text>
<text x="902.73" y="1631.26">0.26</text>
<text x="939.09" y="1631.26">0.27</text>
<text x="975.44" y="1631.26">0.26</text>
<text x="1011.8" y="1631.26">0.26</text>
<text x="1048.16" y="1631.26">0.27</text>
<text x="1084.51" y="1631.26">0.24</text>
<text x="1120.87" y="1631.26">0.28</text>
<text x="1157.23" y="1631.26">0.34</text>
<text x="1193.59" y="1631.26">1.0</text>
<text x="1229.94" y="1631.26">0.21</text>
<text x="1266.3" y="1631.26">0.24</text>
<text x="1302.66" y="1631.26">0.21</text>
<text x="1339.01" y="1631.26">0.23</text>
<text x="1375.37" y="1631.26">0.18</text>
<text x="902.73" y="1667.62">0.17</text>
<text x="939.09" y="1667.62">0.19</text>
<text x="975.44" y="1667.62">0.19</text>
<text x="1011.8" y="1667.62">0.18</text>
<text x="1048.16" y="1667.62">0.22</text>
<text x="1084.51" y="1667.62">0.21</text>
<text x="1120.87" y="1667.62">0.22</text>
<text x="1157.23" y="1667.62">0.19</text>
<text x="1193.59" y="1667.62">0.21</text>
<text x="1229.94" y="1667.62">1.0</text>
<text x="1266.3" y="1667.62">0.3</text>
<text x="1302.66" y="1667.62">0.24</text>
<text x="1339.01" y="1667.62">0.29</text>
<text x="1375.37" y="1667.62">0.21</text>
<text x="902.73" y="1703.97">0.2</text>
<text x="939.09" y="1703.97">0.21</text>
<text x="975.44" y="1703.97">0.21</text>
<text x="1011.8" y="1703.97">0.2</text>
<text x="1048.16" y="1703.97">0.24</text>
<text x="1084.51" y="1703.97">0.24</text>
<text x="1120.87" y="1703.97">0.25</text>
<text x="1157.23" y="1703.97">0.22</text>
<text x="1193.59" y="1703.97">0.24</text>
<text x="1229.94" y="1703.97">0.3</text>
<text x="1266.3" y="1703.97">1.0</text>
<text x="1302.66" y="1703.97">0.26</text>
<text x="1339.01" y="1703.97">0.32</text>
<text x="1375.37" y="1703.97">0.21</text>
<text x="902.73" y="1740.33">0.19</text>
<text x="939.09" y="1740.33">0.2</text>
<text x="975.44" y="1740.33">0.2</text>
<text x="1011.8" y="1740.33">0.19</text>
<text x="1048.16" y="1740.33">0.2</text>
<text x="1084.51" y="1740.33">0.18</text>
<text x="1120.87" y="1740.33">0.21</text>
<text x="1157.23" y="1740.33">0.19</text>
<text x="1193.59" y="1740.33">0.21</text>
<text x="1229.94" y="1740.33">0.24</text>
<text x="1266.3" y="1740.33">0.26</text>
<text x="1302.66" y="1740.33">1.0</text>
<text x="1339.01" y="1740.33">0.29</text>
<text x="1375.37" y="1740.33">0.25</text>
<text x="902.73" y="1776.69">0.2</text>
<text x="939.09" y="1776.69">0.22</text>
<text x="975.44" y="1776.69">0.22</text>
<text x="1011.8" y="1776.69">0.2</text>
<text x="1048.16" y="1776.69">0.24</text>
<text x="1084.51" y="1776.69">0.22</text>
<text x="1120.87" y="1776.69">0.24</text>
<text x="1157.23" y="1776.69">0.21</text>
<text x="1193.59" y="1776.69">0.23</text>
<text x="1229.94" y="1776.69">0.29</text>
<text x="1266.3" y="1776.69">0.32</text>
<text x="1302.66" y="1776.69">0.29</text>
<text x="1339.01" y="1776.69">1.0</text>
<text x="1375.37" y="1776.69">0.22</text>
<text x="902.73" y="1813.04">0.16</text>
<text x="939.09" y="1813.04">0.17</text>
<text x="975.44" y="1813.04">0.17</text>
<text x="1011.8" y="1813.04">0.16</text>
<text x="1048.16" y="1813.04">0.18</text>
<text x="1084.51" y="1813.04">0.18</text>
<text x="1120.87" y="1813.04">0.17</text>
<text x="1157.23" y="1813.04">0.17</text>
<text x="1193.59" y="1813.04">0.18</text>
<text x="1229.94" y="1813.04">0.21</text>
<text x="1266.3" y="1813.04">0.21</text>
<text x="1302.66" y="1813.04">0.25</text>
<text x="1339.01" y="1813.04">0.22</text>
<text x="1375.37" y="1813.04">1.0</text>
</g>
<rect x="886.75" y="1317.5" width="509" height="509" fill="none" stroke="#000" stroke-width="2.7"/>
<text x="879.3" y="1343.97" font-size="22.4" text-anchor="end">CUX2</text>
<text x="915.82" y="1835.3" font-size="22.4" text-anchor="end" transform="rotate(-90 915.82 1835.3)">CUX2</text>
<text x="879.3" y="1380.33" font-size="22.4" text-anchor="end">RORB</text>
<text x="952.18" y="1835.3" font-size="22.4" text-anchor="end" transform="rotate(-90 952.18 1835.3)">RORB</text>
<text x="879.3" y="1416.69" font-size="22.4" text-anchor="end">FEZF2</text>
<text x="988.54" y="1835.3" font-size="22.4" text-anchor="end" transform="rotate(-90 988.54 1835.3)">FEZF2</text>
<text x="879.3" y="1453.05" font-size="22.4" text-anchor="end">OPRK1</text>
<text x="1024.9" y="1835.3" font-size="22.4" text-anchor="end" transform="rotate(-90 1024.9 1835.3)">OPRK1</text>
<text x="879.3" y="1489.41" font-size="22.4" text-anchor="end">LAMP5</text>
<text x="1061.26" y="1835.3" font-size="22.4" text-anchor="end" transform="rotate(-90 1061.26 1835.3)">LAMP5</text>
<text x="879.3" y="1525.77" font-size="22.4" text-anchor="end">KCNG1</text>
<text x="1097.62" y="1835.3" font-size="22.4" text-anchor="end" transform="rotate(-90 1097.62 1835.3)">KCNG1</text>
<text x="879.3" y="1562.13" font-size="22.4" text-anchor="end">VIP</text>
<text x="1133.98" y="1835.3" font-size="22.4" text-anchor="end" transform="rotate(-90 1133.98 1835.3)">VIP</text>
<text x="879.3" y="1598.49" font-size="22.4" text-anchor="end">SST</text>
<text x="1170.34" y="1835.3" font-size="22.4" text-anchor="end" transform="rotate(-90 1170.34 1835.3)">SST</text>
<text x="879.3" y="1634.85" font-size="22.4" text-anchor="end">PVALB</text>
<text x="1206.7" y="1835.3" font-size="22.4" text-anchor="end" transform="rotate(-90 1206.7 1835.3)">PVALB</text>
<text x="879.3" y="1671.21" font-size="22.4" text-anchor="end">OLG</text>
<text x="1243.06" y="1835.3" font-size="22.4" text-anchor="end" transform="rotate(-90 1243.06 1835.3)">OLG</text>
<text x="879.3" y="1707.57" font-size="22.4" text-anchor="end">OPC</text>
<text x="1279.42" y="1835.3" font-size="22.4" text-anchor="end" transform="rotate(-90 1279.42 1835.3)">OPC</text>
<text x="879.3" y="1743.93" font-size="22.4" text-anchor="end">END</text>
<text x="1315.78" y="1835.3" font-size="22.4" text-anchor="end" transform="rotate(-90 1315.78 1835.3)">END</text>
<text x="879.3" y="1780.29" font-size="22.4" text-anchor="end">AST</text>
<text x="1352.14" y="1835.3" font-size="22.4" text-anchor="end" transform="rotate(-90 1352.14 1835.3)">AST</text>
<text x="879.3" y="1816.65" font-size="22.4" text-anchor="end">MG</text>
<text x="1388.5" y="1835.3" font-size="22.4" text-anchor="end" transform="rotate(-90 1388.5 1835.3)">MG</text>
<text x="1141" y="1961.5" font-size="37.6" text-anchor="middle">Multiome</text>
<text x="791.25" y="1572.5" font-size="37.6" text-anchor="middle" transform="rotate(-90 791.25 1572.5)">Multiome</text>
<linearGradient id="cbg" x1="0" y1="1" x2="0" y2="0"><stop offset="0" stop-color="#fff5f0"/><stop offset="0.12" stop-color="#fee0d2"/><stop offset="0.25" stop-color="#fcbba1"/><stop offset="0.38" stop-color="#fc9272"/><stop offset="0.5" stop-color="#fb6a4a"/><stop offset="0.62" stop-color="#ef3b2c"/><stop offset="0.75" stop-color="#cb181d"/><stop offset="0.88" stop-color="#a50f15"/><stop offset="1" stop-color="#67000d"/></linearGradient>
<rect x="1411.95" y="1317.5" width="25.6" height="509" fill="url(#cbg)" stroke="#000" stroke-width="2.5"/>
<text x="1444.8" y="1339" font-size="29.6" text-anchor="start">1</text>
<text x="1504" y="1824.1" font-size="29.6" text-anchor="end">0.16</text>
<rect x="1658.95" y="1341.96" width="52.2" height="483.84" fill="#b22727" stroke="#000" stroke-width="2.6"/>
<text x="1694.95" y="1837.8" font-size="29.6" text-anchor="end" transform="rotate(-90 1694.95 1837.8)">EXN</text>
<rect x="1729.8" y="1435.99" width="52.2" height="389.81" fill="#459a5e" stroke="#000" stroke-width="2.6"/>
<text x="1765.8" y="1837.8" font-size="29.6" text-anchor="end" transform="rotate(-90 1765.8 1837.8)">IN</text>
<rect x="1800.65" y="1461.52" width="52.2" height="364.28" fill="#5353a8" stroke="#000" stroke-width="2.6"/>
<text x="1836.65" y="1837.8" font-size="29.6" text-anchor="end" transform="rotate(-90 1836.65 1837.8)">OLG</text>
<rect x="1871.5" y="1458.41" width="52.2" height="367.39" fill="#a9c6e8" stroke="#000" stroke-width="2.6"/>
<text x="1907.5" y="1837.8" font-size="29.6" text-anchor="end" transform="rotate(-90 1907.5 1837.8)">OPC</text>
<rect x="1942.35" y="1340.09" width="52.2" height="485.71" fill="#b87bc4" stroke="#000" stroke-width="2.6"/>
<text x="1978.35" y="1837.8" font-size="29.6" text-anchor="end" transform="rotate(-90 1978.35 1837.8)">END</text>
<rect x="2013.2" y="1444.71" width="52.2" height="381.09" fill="#f0f26a" stroke="#000" stroke-width="2.6"/>
<text x="2049.2" y="1837.8" font-size="29.6" text-anchor="end" transform="rotate(-90 2049.2 1837.8)">AST</text>
<rect x="2084.05" y="1398.01" width="52.2" height="427.79" fill="#808080" stroke="#000" stroke-width="2.6"/>
<text x="2120.05" y="1837.8" font-size="29.6" text-anchor="end" transform="rotate(-90 2120.05 1837.8)">MG</text>
<rect x="1634.2" y="1316.75" width="526.8" height="509.05" fill="none" stroke="#000" stroke-width="2.8"/>
<line x1="1628.6" y1="1825.8" x2="1634.2" y2="1825.8" stroke="#000" stroke-width="2.6"/>
<text x="1619.8" y="1836.2" font-size="29.6" text-anchor="end">0</text>
<line x1="1628.6" y1="1701.26" x2="1634.2" y2="1701.26" stroke="#000" stroke-width="2.6"/>
<text x="1619.8" y="1711.66" font-size="29.6" text-anchor="end">0.2</text>
<line x1="1628.6" y1="1576.72" x2="1634.2" y2="1576.72" stroke="#000" stroke-width="2.6"/>
<text x="1619.8" y="1587.12" font-size="29.6" text-anchor="end">0.4</text>
<line x1="1628.6" y1="1452.18" x2="1634.2" y2="1452.18" stroke="#000" stroke-width="2.6"/>
<text x="1619.8" y="1462.58" font-size="29.6" text-anchor="end">0.6</text>
<line x1="1628.6" y1="1327.64" x2="1634.2" y2="1327.64" stroke="#000" stroke-width="2.6"/>
<text x="1619.8" y="1338.04" font-size="29.6" text-anchor="end">0.8</text>
<text x="1563.75" y="1572.5" font-size="37.6" text-anchor="middle" transform="rotate(-90 1563.75 1572.5)">Overlap %</text>
<text x="1897.8" y="1290.6" font-size="37.6" text-anchor="middle">ATAC vs Multiome peaks</text>
</svg>
</body></html>
